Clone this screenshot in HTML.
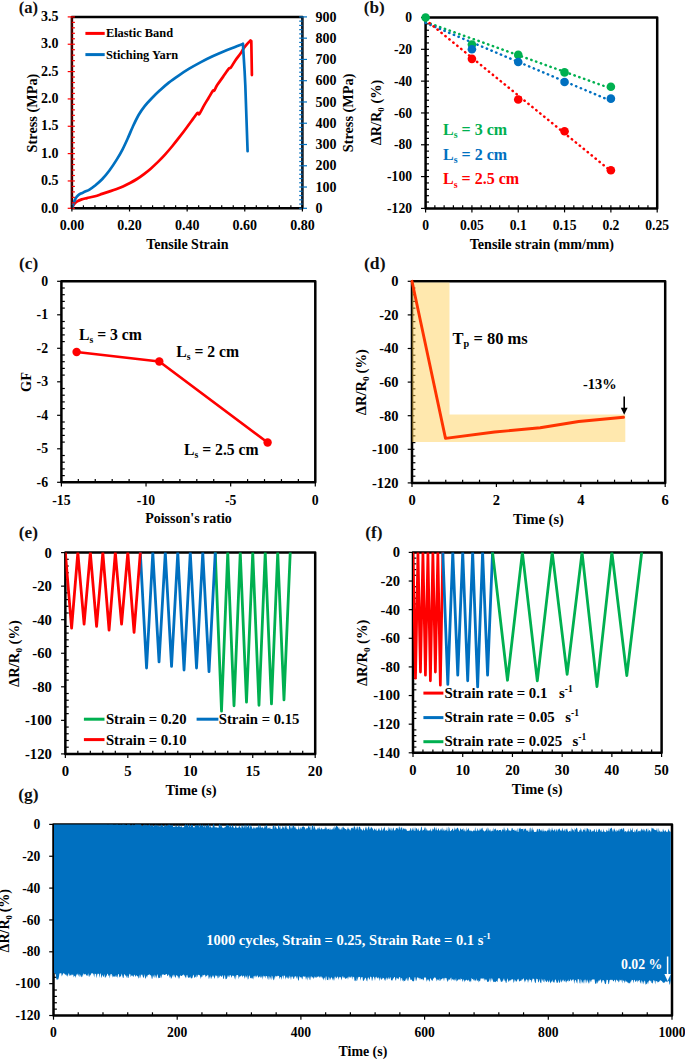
<!DOCTYPE html>
<html><head><meta charset="utf-8"><style>
html,body{margin:0;padding:0;background:#fff;width:685px;height:1059px;overflow:hidden}
svg{display:block}
text{font-family:"Liberation Serif", serif}
</style></head><body>
<svg width="685" height="1059" viewBox="0 0 685 1059">
<rect width="685" height="1059" fill="#fff"/>
<text x="18.8" y="13.1" font-size="16.6" text-anchor="start" fill="#111" font-weight="bold" >(a)</text>
<rect x="71.9" y="16.9" width="230.5" height="191.4" fill="none" stroke="#000" stroke-width="2.5" stroke-linejoin="round"/>
<path d="M72.2,207.5 C72.58,206.85 73.67,204.62 74.5,203.6 C75.33,202.58 76.00,202.10 77.2,201.4 C78.40,200.70 80.07,199.95 81.7,199.4 C83.33,198.85 84.78,198.63 87,198.1 C89.22,197.57 92.50,196.90 95,196.2 C97.50,195.50 99.67,194.67 102,193.9 C104.33,193.13 106.67,192.38 109,191.6 C111.33,190.82 113.67,190.07 116,189.2 C118.33,188.33 120.67,187.43 123,186.4 C125.33,185.37 127.67,184.23 130,183 C132.33,181.77 134.67,180.48 137,179 C139.33,177.52 141.67,175.87 144,174.1 C146.33,172.33 148.67,170.43 151,168.4 C153.33,166.37 155.67,164.20 158,161.9 C160.33,159.60 162.67,157.17 165,154.6 C167.33,152.03 169.67,149.32 172,146.5 C174.33,143.68 176.67,140.70 179,137.7 C181.33,134.70 183.67,131.63 186,128.5 C188.33,125.37 191.13,121.47 193,118.9 C194.87,116.33 196.32,114.02 197.2,113.1 C198.08,112.18 197.93,113.27 198.3,113.4 C198.67,113.53 198.48,115.15 199.4,113.9 C200.32,112.65 202.30,108.52 203.8,105.9 C205.30,103.28 206.90,100.70 208.4,98.2 C209.90,95.70 211.83,92.17 212.8,90.9 C213.77,89.63 213.47,91.57 214.2,90.6 C214.93,89.63 215.73,87.38 217.2,85.1 C218.67,82.82 221.10,79.60 223,76.9 C224.90,74.20 227.30,70.45 228.6,68.9 C229.90,67.35 229.68,69.00 230.8,67.6 C231.92,66.20 233.68,62.85 235.3,60.5 C236.92,58.15 239.15,55.45 240.5,53.5 C241.85,51.55 242.32,50.35 243.4,48.8 C244.48,47.25 245.82,45.55 247,44.2 C248.18,42.85 249.92,41.28 250.5,40.7" fill="none" stroke="#FF0000" stroke-width="2.7" stroke-linejoin="round" stroke-linecap="round" />
<polyline points="250.5,40.7 251.3,41 251.9,75.1" fill="none" stroke="#FF0000" stroke-width="2.7" stroke-linejoin="round" stroke-linecap="round" />
<path d="M72.2,207.5 C72.40,206.88 72.80,205.35 73.4,203.8 C74.00,202.25 75.00,199.63 75.8,198.2 C76.60,196.77 77.37,195.98 78.2,195.2 C79.03,194.42 79.63,194.10 80.8,193.5 C81.97,192.90 83.75,192.25 85.2,191.6 C86.65,190.95 87.90,190.57 89.5,189.6 C91.10,188.63 92.70,187.52 94.8,185.8 C96.90,184.08 99.67,181.85 102.1,179.3 C104.53,176.75 106.97,173.78 109.4,170.5 C111.83,167.22 114.50,163.13 116.7,159.6 C118.90,156.07 120.65,153.08 122.6,149.3 C124.55,145.52 126.70,140.67 128.4,136.9 C130.10,133.13 131.10,130.35 132.8,126.7 C134.50,123.05 136.65,118.40 138.6,115 C140.55,111.60 142.30,109.10 144.5,106.3 C146.70,103.50 149.18,100.90 151.8,98.2 C154.42,95.50 157.37,92.70 160.2,90.1 C163.03,87.50 165.67,85.07 168.8,82.6 C171.93,80.13 175.60,77.62 179,75.3 C182.40,72.98 185.55,70.90 189.2,68.7 C192.85,66.50 197.00,64.17 200.9,62.1 C204.80,60.03 208.72,58.12 212.6,56.3 C216.48,54.48 220.55,52.72 224.2,51.2 C227.85,49.68 231.38,48.42 234.5,47.2 C237.62,45.98 241.50,44.45 242.9,43.9" fill="none" stroke="#0070C0" stroke-width="2.7" stroke-linejoin="round" stroke-linecap="round" />
<polyline points="242.9,43.9 244.6,71 245.3,85 247.6,151.2" fill="none" stroke="#0070C0" stroke-width="2.7" stroke-linejoin="round" stroke-linecap="round" />
<line x1="71.9" y1="16.9" x2="71.9" y2="208.3" stroke="#a00000" stroke-width="0.9" />
<line x1="67.7" y1="208.3" x2="74.9" y2="208.3" stroke="#FF0000" stroke-width="1.2" />
<line x1="71.9" y1="202.83" x2="74.9" y2="202.83" stroke="#FF0000" stroke-width="1.2" />
<line x1="71.9" y1="197.36" x2="74.9" y2="197.36" stroke="#FF0000" stroke-width="1.2" />
<line x1="71.9" y1="191.89" x2="74.9" y2="191.89" stroke="#FF0000" stroke-width="1.2" />
<line x1="71.9" y1="186.43" x2="74.9" y2="186.43" stroke="#FF0000" stroke-width="1.2" />
<text x="58.6" y="212.5" font-size="14" text-anchor="end" fill="#000" font-weight="bold" >0.0</text>
<line x1="67.7" y1="180.96" x2="74.9" y2="180.96" stroke="#FF0000" stroke-width="1.2" />
<line x1="71.9" y1="175.49" x2="74.9" y2="175.49" stroke="#FF0000" stroke-width="1.2" />
<line x1="71.9" y1="170.02" x2="74.9" y2="170.02" stroke="#FF0000" stroke-width="1.2" />
<line x1="71.9" y1="164.55" x2="74.9" y2="164.55" stroke="#FF0000" stroke-width="1.2" />
<line x1="71.9" y1="159.08" x2="74.9" y2="159.08" stroke="#FF0000" stroke-width="1.2" />
<text x="58.6" y="185.16" font-size="14" text-anchor="end" fill="#000" font-weight="bold" >0.5</text>
<line x1="67.7" y1="153.61" x2="74.9" y2="153.61" stroke="#FF0000" stroke-width="1.2" />
<line x1="71.9" y1="148.15" x2="74.9" y2="148.15" stroke="#FF0000" stroke-width="1.2" />
<line x1="71.9" y1="142.68" x2="74.9" y2="142.68" stroke="#FF0000" stroke-width="1.2" />
<line x1="71.9" y1="137.21" x2="74.9" y2="137.21" stroke="#FF0000" stroke-width="1.2" />
<line x1="71.9" y1="131.74" x2="74.9" y2="131.74" stroke="#FF0000" stroke-width="1.2" />
<text x="58.6" y="157.81" font-size="14" text-anchor="end" fill="#000" font-weight="bold" >1.0</text>
<line x1="67.7" y1="126.27" x2="74.9" y2="126.27" stroke="#FF0000" stroke-width="1.2" />
<line x1="71.9" y1="120.8" x2="74.9" y2="120.8" stroke="#FF0000" stroke-width="1.2" />
<line x1="71.9" y1="115.33" x2="74.9" y2="115.33" stroke="#FF0000" stroke-width="1.2" />
<line x1="71.9" y1="109.87" x2="74.9" y2="109.87" stroke="#FF0000" stroke-width="1.2" />
<line x1="71.9" y1="104.4" x2="74.9" y2="104.4" stroke="#FF0000" stroke-width="1.2" />
<text x="58.6" y="130.47" font-size="14" text-anchor="end" fill="#000" font-weight="bold" >1.5</text>
<line x1="67.7" y1="98.93" x2="74.9" y2="98.93" stroke="#FF0000" stroke-width="1.2" />
<line x1="71.9" y1="93.46" x2="74.9" y2="93.46" stroke="#FF0000" stroke-width="1.2" />
<line x1="71.9" y1="87.99" x2="74.9" y2="87.99" stroke="#FF0000" stroke-width="1.2" />
<line x1="71.9" y1="82.52" x2="74.9" y2="82.52" stroke="#FF0000" stroke-width="1.2" />
<line x1="71.9" y1="77.05" x2="74.9" y2="77.05" stroke="#FF0000" stroke-width="1.2" />
<text x="58.6" y="103.13" font-size="14" text-anchor="end" fill="#000" font-weight="bold" >2.0</text>
<line x1="67.7" y1="71.59" x2="74.9" y2="71.59" stroke="#FF0000" stroke-width="1.2" />
<line x1="71.9" y1="66.12" x2="74.9" y2="66.12" stroke="#FF0000" stroke-width="1.2" />
<line x1="71.9" y1="60.65" x2="74.9" y2="60.65" stroke="#FF0000" stroke-width="1.2" />
<line x1="71.9" y1="55.18" x2="74.9" y2="55.18" stroke="#FF0000" stroke-width="1.2" />
<line x1="71.9" y1="49.71" x2="74.9" y2="49.71" stroke="#FF0000" stroke-width="1.2" />
<text x="58.6" y="75.79" font-size="14" text-anchor="end" fill="#000" font-weight="bold" >2.5</text>
<line x1="67.7" y1="44.24" x2="74.9" y2="44.24" stroke="#FF0000" stroke-width="1.2" />
<line x1="71.9" y1="38.77" x2="74.9" y2="38.77" stroke="#FF0000" stroke-width="1.2" />
<line x1="71.9" y1="33.31" x2="74.9" y2="33.31" stroke="#FF0000" stroke-width="1.2" />
<line x1="71.9" y1="27.84" x2="74.9" y2="27.84" stroke="#FF0000" stroke-width="1.2" />
<line x1="71.9" y1="22.37" x2="74.9" y2="22.37" stroke="#FF0000" stroke-width="1.2" />
<text x="58.6" y="48.44" font-size="14" text-anchor="end" fill="#000" font-weight="bold" >3.0</text>
<line x1="67.7" y1="16.9" x2="74.9" y2="16.9" stroke="#FF0000" stroke-width="1.2" />
<text x="58.6" y="21.1" font-size="14" text-anchor="end" fill="#000" font-weight="bold" >3.5</text>
<line x1="302.4" y1="16.9" x2="302.4" y2="208.3" stroke="#0b2f55" stroke-width="0.8" />
<line x1="307" y1="208.3" x2="299.2" y2="208.3" stroke="#0070C0" stroke-width="1.2" />
<line x1="302.4" y1="204.05" x2="299.2" y2="204.05" stroke="#0070C0" stroke-width="1.2" />
<line x1="302.4" y1="199.79" x2="299.2" y2="199.79" stroke="#0070C0" stroke-width="1.2" />
<line x1="302.4" y1="195.54" x2="299.2" y2="195.54" stroke="#0070C0" stroke-width="1.2" />
<line x1="302.4" y1="191.29" x2="299.2" y2="191.29" stroke="#0070C0" stroke-width="1.2" />
<text x="315.4" y="212.9" font-size="14" text-anchor="start" fill="#000" font-weight="bold" >0</text>
<line x1="307" y1="187.03" x2="299.2" y2="187.03" stroke="#0070C0" stroke-width="1.2" />
<line x1="302.4" y1="182.78" x2="299.2" y2="182.78" stroke="#0070C0" stroke-width="1.2" />
<line x1="302.4" y1="178.53" x2="299.2" y2="178.53" stroke="#0070C0" stroke-width="1.2" />
<line x1="302.4" y1="174.27" x2="299.2" y2="174.27" stroke="#0070C0" stroke-width="1.2" />
<line x1="302.4" y1="170.02" x2="299.2" y2="170.02" stroke="#0070C0" stroke-width="1.2" />
<text x="315.4" y="191.63" font-size="14" text-anchor="start" fill="#000" font-weight="bold" >100</text>
<line x1="307" y1="165.77" x2="299.2" y2="165.77" stroke="#0070C0" stroke-width="1.2" />
<line x1="302.4" y1="161.51" x2="299.2" y2="161.51" stroke="#0070C0" stroke-width="1.2" />
<line x1="302.4" y1="157.26" x2="299.2" y2="157.26" stroke="#0070C0" stroke-width="1.2" />
<line x1="302.4" y1="153.01" x2="299.2" y2="153.01" stroke="#0070C0" stroke-width="1.2" />
<line x1="302.4" y1="148.75" x2="299.2" y2="148.75" stroke="#0070C0" stroke-width="1.2" />
<text x="315.4" y="170.37" font-size="14" text-anchor="start" fill="#000" font-weight="bold" >200</text>
<line x1="307" y1="144.5" x2="299.2" y2="144.5" stroke="#0070C0" stroke-width="1.2" />
<line x1="302.4" y1="140.25" x2="299.2" y2="140.25" stroke="#0070C0" stroke-width="1.2" />
<line x1="302.4" y1="135.99" x2="299.2" y2="135.99" stroke="#0070C0" stroke-width="1.2" />
<line x1="302.4" y1="131.74" x2="299.2" y2="131.74" stroke="#0070C0" stroke-width="1.2" />
<line x1="302.4" y1="127.49" x2="299.2" y2="127.49" stroke="#0070C0" stroke-width="1.2" />
<text x="315.4" y="149.1" font-size="14" text-anchor="start" fill="#000" font-weight="bold" >300</text>
<line x1="307" y1="123.23" x2="299.2" y2="123.23" stroke="#0070C0" stroke-width="1.2" />
<line x1="302.4" y1="118.98" x2="299.2" y2="118.98" stroke="#0070C0" stroke-width="1.2" />
<line x1="302.4" y1="114.73" x2="299.2" y2="114.73" stroke="#0070C0" stroke-width="1.2" />
<line x1="302.4" y1="110.47" x2="299.2" y2="110.47" stroke="#0070C0" stroke-width="1.2" />
<line x1="302.4" y1="106.22" x2="299.2" y2="106.22" stroke="#0070C0" stroke-width="1.2" />
<text x="315.4" y="127.83" font-size="14" text-anchor="start" fill="#000" font-weight="bold" >400</text>
<line x1="307" y1="101.97" x2="299.2" y2="101.97" stroke="#0070C0" stroke-width="1.2" />
<line x1="302.4" y1="97.71" x2="299.2" y2="97.71" stroke="#0070C0" stroke-width="1.2" />
<line x1="302.4" y1="93.46" x2="299.2" y2="93.46" stroke="#0070C0" stroke-width="1.2" />
<line x1="302.4" y1="89.21" x2="299.2" y2="89.21" stroke="#0070C0" stroke-width="1.2" />
<line x1="302.4" y1="84.95" x2="299.2" y2="84.95" stroke="#0070C0" stroke-width="1.2" />
<text x="315.4" y="106.57" font-size="14" text-anchor="start" fill="#000" font-weight="bold" >500</text>
<line x1="307" y1="80.7" x2="299.2" y2="80.7" stroke="#0070C0" stroke-width="1.2" />
<line x1="302.4" y1="76.45" x2="299.2" y2="76.45" stroke="#0070C0" stroke-width="1.2" />
<line x1="302.4" y1="72.19" x2="299.2" y2="72.19" stroke="#0070C0" stroke-width="1.2" />
<line x1="302.4" y1="67.94" x2="299.2" y2="67.94" stroke="#0070C0" stroke-width="1.2" />
<line x1="302.4" y1="63.69" x2="299.2" y2="63.69" stroke="#0070C0" stroke-width="1.2" />
<text x="315.4" y="85.3" font-size="14" text-anchor="start" fill="#000" font-weight="bold" >600</text>
<line x1="307" y1="59.43" x2="299.2" y2="59.43" stroke="#0070C0" stroke-width="1.2" />
<line x1="302.4" y1="55.18" x2="299.2" y2="55.18" stroke="#0070C0" stroke-width="1.2" />
<line x1="302.4" y1="50.93" x2="299.2" y2="50.93" stroke="#0070C0" stroke-width="1.2" />
<line x1="302.4" y1="46.67" x2="299.2" y2="46.67" stroke="#0070C0" stroke-width="1.2" />
<line x1="302.4" y1="42.42" x2="299.2" y2="42.42" stroke="#0070C0" stroke-width="1.2" />
<text x="315.4" y="64.03" font-size="14" text-anchor="start" fill="#000" font-weight="bold" >700</text>
<line x1="307" y1="38.17" x2="299.2" y2="38.17" stroke="#0070C0" stroke-width="1.2" />
<line x1="302.4" y1="33.91" x2="299.2" y2="33.91" stroke="#0070C0" stroke-width="1.2" />
<line x1="302.4" y1="29.66" x2="299.2" y2="29.66" stroke="#0070C0" stroke-width="1.2" />
<line x1="302.4" y1="25.41" x2="299.2" y2="25.41" stroke="#0070C0" stroke-width="1.2" />
<line x1="302.4" y1="21.15" x2="299.2" y2="21.15" stroke="#0070C0" stroke-width="1.2" />
<text x="315.4" y="42.77" font-size="14" text-anchor="start" fill="#000" font-weight="bold" >800</text>
<line x1="307" y1="16.9" x2="299.2" y2="16.9" stroke="#0070C0" stroke-width="1.2" />
<text x="315.4" y="21.5" font-size="14" text-anchor="start" fill="#000" font-weight="bold" >900</text>
<line x1="71.9" y1="205.1" x2="71.9" y2="211.5" stroke="#000" stroke-width="1.2" />
<line x1="83.43" y1="205.3" x2="83.43" y2="208.3" stroke="#000" stroke-width="1.2" />
<line x1="94.95" y1="205.3" x2="94.95" y2="208.3" stroke="#000" stroke-width="1.2" />
<line x1="106.47" y1="205.3" x2="106.47" y2="208.3" stroke="#000" stroke-width="1.2" />
<line x1="118" y1="205.3" x2="118" y2="208.3" stroke="#000" stroke-width="1.2" />
<text x="71.9" y="229.6" font-size="14" text-anchor="middle" fill="#000" font-weight="bold" >0.00</text>
<line x1="129.53" y1="205.1" x2="129.53" y2="211.5" stroke="#000" stroke-width="1.2" />
<line x1="141.05" y1="205.3" x2="141.05" y2="208.3" stroke="#000" stroke-width="1.2" />
<line x1="152.57" y1="205.3" x2="152.57" y2="208.3" stroke="#000" stroke-width="1.2" />
<line x1="164.1" y1="205.3" x2="164.1" y2="208.3" stroke="#000" stroke-width="1.2" />
<line x1="175.62" y1="205.3" x2="175.62" y2="208.3" stroke="#000" stroke-width="1.2" />
<text x="129.53" y="229.6" font-size="14" text-anchor="middle" fill="#000" font-weight="bold" >0.20</text>
<line x1="187.15" y1="205.1" x2="187.15" y2="211.5" stroke="#000" stroke-width="1.2" />
<line x1="198.67" y1="205.3" x2="198.67" y2="208.3" stroke="#000" stroke-width="1.2" />
<line x1="210.2" y1="205.3" x2="210.2" y2="208.3" stroke="#000" stroke-width="1.2" />
<line x1="221.72" y1="205.3" x2="221.72" y2="208.3" stroke="#000" stroke-width="1.2" />
<line x1="233.25" y1="205.3" x2="233.25" y2="208.3" stroke="#000" stroke-width="1.2" />
<text x="187.15" y="229.6" font-size="14" text-anchor="middle" fill="#000" font-weight="bold" >0.40</text>
<line x1="244.77" y1="205.1" x2="244.77" y2="211.5" stroke="#000" stroke-width="1.2" />
<line x1="256.3" y1="205.3" x2="256.3" y2="208.3" stroke="#000" stroke-width="1.2" />
<line x1="267.82" y1="205.3" x2="267.82" y2="208.3" stroke="#000" stroke-width="1.2" />
<line x1="279.35" y1="205.3" x2="279.35" y2="208.3" stroke="#000" stroke-width="1.2" />
<line x1="290.88" y1="205.3" x2="290.88" y2="208.3" stroke="#000" stroke-width="1.2" />
<text x="244.77" y="229.6" font-size="14" text-anchor="middle" fill="#000" font-weight="bold" >0.60</text>
<line x1="302.4" y1="205.1" x2="302.4" y2="211.5" stroke="#000" stroke-width="1.2" />
<text x="302.4" y="229.6" font-size="14" text-anchor="middle" fill="#000" font-weight="bold" >0.80</text>
<line x1="85.4" y1="33.4" x2="104.7" y2="33.4" stroke="#FF0000" stroke-width="3" />
<text x="105.9" y="37.4" font-size="12.4" text-anchor="start" fill="#000" font-weight="bold" >Elastic Band</text>
<line x1="85.4" y1="54.6" x2="104.7" y2="54.6" stroke="#0070C0" stroke-width="3" />
<text x="105.9" y="58.6" font-size="12.4" text-anchor="start" fill="#000" font-weight="bold" >Stiching Yarn</text>
<text x="187.3" y="248.7" font-size="14" text-anchor="middle" fill="#000" font-weight="bold" >Tensile Strain</text>
<text x="0" y="0" font-size="14.3" text-anchor="middle" font-weight="bold" transform="translate(36.6,113) rotate(-90)">Stress (MPa)</text>
<text x="0" y="0" font-size="14.3" text-anchor="middle" font-weight="bold" transform="translate(353.2,112.9) rotate(-90)">Stress (MPa)</text>
<text x="363.8" y="13.2" font-size="17.2" text-anchor="start" fill="#111" font-weight="bold" >(b)</text>
<rect x="425.6" y="17.5" width="231.6" height="190.9" fill="none" stroke="#000" stroke-width="2.5" stroke-linejoin="round"/>
<line x1="421" y1="208.4" x2="429" y2="208.4" stroke="#000" stroke-width="1.2" />
<line x1="425.6" y1="202.04" x2="429" y2="202.04" stroke="#000" stroke-width="1.2" />
<line x1="425.6" y1="195.67" x2="429" y2="195.67" stroke="#000" stroke-width="1.2" />
<line x1="425.6" y1="189.31" x2="429" y2="189.31" stroke="#000" stroke-width="1.2" />
<line x1="425.6" y1="182.95" x2="429" y2="182.95" stroke="#000" stroke-width="1.2" />
<text x="412" y="212.96" font-size="13.6" text-anchor="end" fill="#000" font-weight="bold" >-120</text>
<line x1="421" y1="176.58" x2="429" y2="176.58" stroke="#000" stroke-width="1.2" />
<line x1="425.6" y1="170.22" x2="429" y2="170.22" stroke="#000" stroke-width="1.2" />
<line x1="425.6" y1="163.86" x2="429" y2="163.86" stroke="#000" stroke-width="1.2" />
<line x1="425.6" y1="157.49" x2="429" y2="157.49" stroke="#000" stroke-width="1.2" />
<line x1="425.6" y1="151.13" x2="429" y2="151.13" stroke="#000" stroke-width="1.2" />
<text x="412" y="181.14" font-size="13.6" text-anchor="end" fill="#000" font-weight="bold" >-100</text>
<line x1="421" y1="144.77" x2="429" y2="144.77" stroke="#000" stroke-width="1.2" />
<line x1="425.6" y1="138.4" x2="429" y2="138.4" stroke="#000" stroke-width="1.2" />
<line x1="425.6" y1="132.04" x2="429" y2="132.04" stroke="#000" stroke-width="1.2" />
<line x1="425.6" y1="125.68" x2="429" y2="125.68" stroke="#000" stroke-width="1.2" />
<line x1="425.6" y1="119.31" x2="429" y2="119.31" stroke="#000" stroke-width="1.2" />
<text x="412" y="149.32" font-size="13.6" text-anchor="end" fill="#000" font-weight="bold" >-80</text>
<line x1="421" y1="112.95" x2="429" y2="112.95" stroke="#000" stroke-width="1.2" />
<line x1="425.6" y1="106.59" x2="429" y2="106.59" stroke="#000" stroke-width="1.2" />
<line x1="425.6" y1="100.22" x2="429" y2="100.22" stroke="#000" stroke-width="1.2" />
<line x1="425.6" y1="93.86" x2="429" y2="93.86" stroke="#000" stroke-width="1.2" />
<line x1="425.6" y1="87.5" x2="429" y2="87.5" stroke="#000" stroke-width="1.2" />
<text x="412" y="117.51" font-size="13.6" text-anchor="end" fill="#000" font-weight="bold" >-60</text>
<line x1="421" y1="81.13" x2="429" y2="81.13" stroke="#000" stroke-width="1.2" />
<line x1="425.6" y1="74.77" x2="429" y2="74.77" stroke="#000" stroke-width="1.2" />
<line x1="425.6" y1="68.41" x2="429" y2="68.41" stroke="#000" stroke-width="1.2" />
<line x1="425.6" y1="62.04" x2="429" y2="62.04" stroke="#000" stroke-width="1.2" />
<line x1="425.6" y1="55.68" x2="429" y2="55.68" stroke="#000" stroke-width="1.2" />
<text x="412" y="85.69" font-size="13.6" text-anchor="end" fill="#000" font-weight="bold" >-40</text>
<line x1="421" y1="49.32" x2="429" y2="49.32" stroke="#000" stroke-width="1.2" />
<line x1="425.6" y1="42.95" x2="429" y2="42.95" stroke="#000" stroke-width="1.2" />
<line x1="425.6" y1="36.59" x2="429" y2="36.59" stroke="#000" stroke-width="1.2" />
<line x1="425.6" y1="30.23" x2="429" y2="30.23" stroke="#000" stroke-width="1.2" />
<line x1="425.6" y1="23.86" x2="429" y2="23.86" stroke="#000" stroke-width="1.2" />
<text x="412" y="53.87" font-size="13.6" text-anchor="end" fill="#000" font-weight="bold" >-20</text>
<line x1="421" y1="17.5" x2="429" y2="17.5" stroke="#000" stroke-width="1.2" />
<text x="412" y="22.06" font-size="13.6" text-anchor="end" fill="#000" font-weight="bold" >0</text>
<line x1="425.6" y1="205.2" x2="425.6" y2="212.4" stroke="#000" stroke-width="1.2" />
<line x1="434.86" y1="205.2" x2="434.86" y2="208.4" stroke="#000" stroke-width="1.2" />
<line x1="444.13" y1="205.2" x2="444.13" y2="208.4" stroke="#000" stroke-width="1.2" />
<line x1="453.39" y1="205.2" x2="453.39" y2="208.4" stroke="#000" stroke-width="1.2" />
<line x1="462.66" y1="205.2" x2="462.66" y2="208.4" stroke="#000" stroke-width="1.2" />
<text x="425.6" y="229.6" font-size="13.6" text-anchor="middle" fill="#000" font-weight="bold" >0</text>
<line x1="471.92" y1="205.2" x2="471.92" y2="212.4" stroke="#000" stroke-width="1.2" />
<line x1="481.18" y1="205.2" x2="481.18" y2="208.4" stroke="#000" stroke-width="1.2" />
<line x1="490.45" y1="205.2" x2="490.45" y2="208.4" stroke="#000" stroke-width="1.2" />
<line x1="499.71" y1="205.2" x2="499.71" y2="208.4" stroke="#000" stroke-width="1.2" />
<line x1="508.98" y1="205.2" x2="508.98" y2="208.4" stroke="#000" stroke-width="1.2" />
<text x="471.92" y="229.6" font-size="13.6" text-anchor="middle" fill="#000" font-weight="bold" >0.05</text>
<line x1="518.24" y1="205.2" x2="518.24" y2="212.4" stroke="#000" stroke-width="1.2" />
<line x1="527.5" y1="205.2" x2="527.5" y2="208.4" stroke="#000" stroke-width="1.2" />
<line x1="536.77" y1="205.2" x2="536.77" y2="208.4" stroke="#000" stroke-width="1.2" />
<line x1="546.03" y1="205.2" x2="546.03" y2="208.4" stroke="#000" stroke-width="1.2" />
<line x1="555.3" y1="205.2" x2="555.3" y2="208.4" stroke="#000" stroke-width="1.2" />
<text x="518.24" y="229.6" font-size="13.6" text-anchor="middle" fill="#000" font-weight="bold" >0.1</text>
<line x1="564.56" y1="205.2" x2="564.56" y2="212.4" stroke="#000" stroke-width="1.2" />
<line x1="573.82" y1="205.2" x2="573.82" y2="208.4" stroke="#000" stroke-width="1.2" />
<line x1="583.09" y1="205.2" x2="583.09" y2="208.4" stroke="#000" stroke-width="1.2" />
<line x1="592.35" y1="205.2" x2="592.35" y2="208.4" stroke="#000" stroke-width="1.2" />
<line x1="601.62" y1="205.2" x2="601.62" y2="208.4" stroke="#000" stroke-width="1.2" />
<text x="564.56" y="229.6" font-size="13.6" text-anchor="middle" fill="#000" font-weight="bold" >0.15</text>
<line x1="610.88" y1="205.2" x2="610.88" y2="212.4" stroke="#000" stroke-width="1.2" />
<line x1="620.14" y1="205.2" x2="620.14" y2="208.4" stroke="#000" stroke-width="1.2" />
<line x1="629.41" y1="205.2" x2="629.41" y2="208.4" stroke="#000" stroke-width="1.2" />
<line x1="638.67" y1="205.2" x2="638.67" y2="208.4" stroke="#000" stroke-width="1.2" />
<line x1="647.94" y1="205.2" x2="647.94" y2="208.4" stroke="#000" stroke-width="1.2" />
<text x="610.88" y="229.6" font-size="13.6" text-anchor="middle" fill="#000" font-weight="bold" >0.2</text>
<line x1="657.2" y1="205.2" x2="657.2" y2="212.4" stroke="#000" stroke-width="1.2" />
<text x="657.2" y="229.6" font-size="13.6" text-anchor="middle" fill="#000" font-weight="bold" >0.25</text>
<line x1="425.6" y1="21.95" x2="610.88" y2="88.45" stroke="#00B050" stroke-width="2.5" stroke-dasharray="0.35 4.75" stroke-linecap="round"/>
<line x1="425.6" y1="22.91" x2="610.88" y2="100.86" stroke="#0070C0" stroke-width="2.5" stroke-dasharray="0.35 4.75" stroke-linecap="round"/>
<line x1="425.6" y1="19.89" x2="610.88" y2="171.02" stroke="#FF0000" stroke-width="2.5" stroke-dasharray="0.35 4.75" stroke-linecap="round"/>
<circle cx="471.92" cy="44.54" r="4.3" fill="#00B050"/>
<circle cx="518.24" cy="54.88" r="4.3" fill="#00B050"/>
<circle cx="564.56" cy="72.38" r="4.3" fill="#00B050"/>
<circle cx="610.88" cy="86.7" r="4.3" fill="#00B050"/>
<circle cx="471.92" cy="49.32" r="4.3" fill="#0070C0"/>
<circle cx="518.24" cy="62.04" r="4.3" fill="#0070C0"/>
<circle cx="564.56" cy="81.93" r="4.3" fill="#0070C0"/>
<circle cx="610.88" cy="98.63" r="4.3" fill="#0070C0"/>
<circle cx="471.92" cy="58.86" r="4.3" fill="#FF0000"/>
<circle cx="518.24" cy="99.43" r="4.3" fill="#FF0000"/>
<circle cx="564.56" cy="131.24" r="4.3" fill="#FF0000"/>
<circle cx="610.88" cy="170.22" r="4.3" fill="#FF0000"/>
<circle cx="425.6" cy="17.5" r="4.3" fill="#00B050"/>
<text x="443" y="134.7" font-size="16" fill="#00B050" font-weight="bold">L<tspan font-size="9.9" dy="3.2">s</tspan><tspan dy="-3.2"> = 3 cm</tspan></text>
<text x="443" y="159.7" font-size="16" fill="#0070C0" font-weight="bold">L<tspan font-size="9.9" dy="3.2">s</tspan><tspan dy="-3.2"> = 2 cm</tspan></text>
<text x="443" y="184.4" font-size="16" fill="#FF0000" font-weight="bold">L<tspan font-size="9.9" dy="3.2">s</tspan><tspan dy="-3.2"> = 2.5 cm</tspan></text>
<text x="541.9" y="249.2" font-size="14.1" text-anchor="middle" fill="#000" font-weight="bold" >Tensile strain (mm/mm)</text>
<text x="0" y="0" font-size="14.3" text-anchor="middle" font-weight="bold" transform="translate(381.4,112.5) rotate(-90)">ΔR/R<tspan font-size="8.9" dy="2.9">0</tspan><tspan dy="-2.9"> (%)</tspan></text>
<text x="19" y="269.4" font-size="17.3" text-anchor="start" fill="#111" font-weight="bold" >(c)</text>
<rect x="61.4" y="281.3" width="253.9" height="201" fill="none" stroke="#000" stroke-width="2.5" stroke-linejoin="round"/>
<line x1="57.1" y1="482.3" x2="61.4" y2="482.3" stroke="#000" stroke-width="1.2" />
<line x1="61.4" y1="475.6" x2="64.8" y2="475.6" stroke="#000" stroke-width="1.2" />
<line x1="61.4" y1="468.9" x2="64.8" y2="468.9" stroke="#000" stroke-width="1.2" />
<line x1="61.4" y1="462.2" x2="64.8" y2="462.2" stroke="#000" stroke-width="1.2" />
<line x1="61.4" y1="455.5" x2="64.8" y2="455.5" stroke="#000" stroke-width="1.2" />
<text x="48.1" y="486.92" font-size="13.8" text-anchor="end" fill="#000" font-weight="bold" >-6</text>
<line x1="57.1" y1="448.8" x2="61.4" y2="448.8" stroke="#000" stroke-width="1.2" />
<line x1="61.4" y1="442.1" x2="64.8" y2="442.1" stroke="#000" stroke-width="1.2" />
<line x1="61.4" y1="435.4" x2="64.8" y2="435.4" stroke="#000" stroke-width="1.2" />
<line x1="61.4" y1="428.7" x2="64.8" y2="428.7" stroke="#000" stroke-width="1.2" />
<line x1="61.4" y1="422" x2="64.8" y2="422" stroke="#000" stroke-width="1.2" />
<text x="48.1" y="453.42" font-size="13.8" text-anchor="end" fill="#000" font-weight="bold" >-5</text>
<line x1="57.1" y1="415.3" x2="61.4" y2="415.3" stroke="#000" stroke-width="1.2" />
<line x1="61.4" y1="408.6" x2="64.8" y2="408.6" stroke="#000" stroke-width="1.2" />
<line x1="61.4" y1="401.9" x2="64.8" y2="401.9" stroke="#000" stroke-width="1.2" />
<line x1="61.4" y1="395.2" x2="64.8" y2="395.2" stroke="#000" stroke-width="1.2" />
<line x1="61.4" y1="388.5" x2="64.8" y2="388.5" stroke="#000" stroke-width="1.2" />
<text x="48.1" y="419.92" font-size="13.8" text-anchor="end" fill="#000" font-weight="bold" >-4</text>
<line x1="57.1" y1="381.8" x2="61.4" y2="381.8" stroke="#000" stroke-width="1.2" />
<line x1="61.4" y1="375.1" x2="64.8" y2="375.1" stroke="#000" stroke-width="1.2" />
<line x1="61.4" y1="368.4" x2="64.8" y2="368.4" stroke="#000" stroke-width="1.2" />
<line x1="61.4" y1="361.7" x2="64.8" y2="361.7" stroke="#000" stroke-width="1.2" />
<line x1="61.4" y1="355" x2="64.8" y2="355" stroke="#000" stroke-width="1.2" />
<text x="48.1" y="386.42" font-size="13.8" text-anchor="end" fill="#000" font-weight="bold" >-3</text>
<line x1="57.1" y1="348.3" x2="61.4" y2="348.3" stroke="#000" stroke-width="1.2" />
<line x1="61.4" y1="341.6" x2="64.8" y2="341.6" stroke="#000" stroke-width="1.2" />
<line x1="61.4" y1="334.9" x2="64.8" y2="334.9" stroke="#000" stroke-width="1.2" />
<line x1="61.4" y1="328.2" x2="64.8" y2="328.2" stroke="#000" stroke-width="1.2" />
<line x1="61.4" y1="321.5" x2="64.8" y2="321.5" stroke="#000" stroke-width="1.2" />
<text x="48.1" y="352.92" font-size="13.8" text-anchor="end" fill="#000" font-weight="bold" >-2</text>
<line x1="57.1" y1="314.8" x2="61.4" y2="314.8" stroke="#000" stroke-width="1.2" />
<line x1="61.4" y1="308.1" x2="64.8" y2="308.1" stroke="#000" stroke-width="1.2" />
<line x1="61.4" y1="301.4" x2="64.8" y2="301.4" stroke="#000" stroke-width="1.2" />
<line x1="61.4" y1="294.7" x2="64.8" y2="294.7" stroke="#000" stroke-width="1.2" />
<line x1="61.4" y1="288" x2="64.8" y2="288" stroke="#000" stroke-width="1.2" />
<text x="48.1" y="319.42" font-size="13.8" text-anchor="end" fill="#000" font-weight="bold" >-1</text>
<line x1="57.1" y1="281.3" x2="61.4" y2="281.3" stroke="#000" stroke-width="1.2" />
<text x="48.1" y="285.92" font-size="13.8" text-anchor="end" fill="#000" font-weight="bold" >0</text>
<line x1="61.4" y1="482.3" x2="61.4" y2="486.5" stroke="#000" stroke-width="1.2" />
<line x1="78.33" y1="479.1" x2="78.33" y2="482.3" stroke="#000" stroke-width="1.2" />
<line x1="95.25" y1="479.1" x2="95.25" y2="482.3" stroke="#000" stroke-width="1.2" />
<line x1="112.18" y1="479.1" x2="112.18" y2="482.3" stroke="#000" stroke-width="1.2" />
<line x1="129.11" y1="479.1" x2="129.11" y2="482.3" stroke="#000" stroke-width="1.2" />
<text x="61.4" y="504.9" font-size="13.8" text-anchor="middle" fill="#000" font-weight="bold" >-15</text>
<line x1="146.03" y1="482.3" x2="146.03" y2="486.5" stroke="#000" stroke-width="1.2" />
<line x1="162.96" y1="479.1" x2="162.96" y2="482.3" stroke="#000" stroke-width="1.2" />
<line x1="179.89" y1="479.1" x2="179.89" y2="482.3" stroke="#000" stroke-width="1.2" />
<line x1="196.81" y1="479.1" x2="196.81" y2="482.3" stroke="#000" stroke-width="1.2" />
<line x1="213.74" y1="479.1" x2="213.74" y2="482.3" stroke="#000" stroke-width="1.2" />
<text x="146.03" y="504.9" font-size="13.8" text-anchor="middle" fill="#000" font-weight="bold" >-10</text>
<line x1="230.67" y1="482.3" x2="230.67" y2="486.5" stroke="#000" stroke-width="1.2" />
<line x1="247.59" y1="479.1" x2="247.59" y2="482.3" stroke="#000" stroke-width="1.2" />
<line x1="264.52" y1="479.1" x2="264.52" y2="482.3" stroke="#000" stroke-width="1.2" />
<line x1="281.45" y1="479.1" x2="281.45" y2="482.3" stroke="#000" stroke-width="1.2" />
<line x1="298.37" y1="479.1" x2="298.37" y2="482.3" stroke="#000" stroke-width="1.2" />
<text x="230.67" y="504.9" font-size="13.8" text-anchor="middle" fill="#000" font-weight="bold" >-5</text>
<line x1="315.3" y1="482.3" x2="315.3" y2="486.5" stroke="#000" stroke-width="1.2" />
<text x="315.3" y="504.9" font-size="13.8" text-anchor="middle" fill="#000" font-weight="bold" >0</text>
<polyline points="76.6,352 159.3,361.5 267.6,442.5" fill="none" stroke="#FF0000" stroke-width="2.7" stroke-linejoin="round" stroke-linecap="round" />
<circle cx="76.6" cy="352" r="4.2" fill="#FF0000"/>
<circle cx="159.3" cy="361.5" r="4.2" fill="#FF0000"/>
<circle cx="267.6" cy="442.5" r="4.2" fill="#FF0000"/>
<text x="79" y="339.7" font-size="15.7" fill="#000" font-weight="bold">L<tspan font-size="9.7" dy="3.1">s</tspan><tspan dy="-3.1"> = 3 cm</tspan></text>
<text x="176.3" y="356.8" font-size="15.7" fill="#000" font-weight="bold">L<tspan font-size="9.7" dy="3.1">s</tspan><tspan dy="-3.1"> = 2 cm</tspan></text>
<text x="184" y="454.6" font-size="15.7" fill="#000" font-weight="bold">L<tspan font-size="9.7" dy="3.1">s</tspan><tspan dy="-3.1"> = 2.5 cm</tspan></text>
<text x="188.5" y="523.4" font-size="14" text-anchor="middle" fill="#000" font-weight="bold" >Poisson's ratio</text>
<text x="0" y="0" font-size="14.3" text-anchor="middle" font-weight="bold" transform="translate(31.4,382) rotate(-90)">GF</text>
<text x="364" y="268.8" font-size="17.6" text-anchor="start" fill="#111" font-weight="bold" >(d)</text>
<rect x="412" y="281.3" width="253.2" height="201.6" fill="none" stroke="#000" stroke-width="2.5" stroke-linejoin="round"/>
<line x1="407.7" y1="482.9" x2="414.5" y2="482.9" stroke="#000" stroke-width="1.2" />
<line x1="412" y1="476.18" x2="415.4" y2="476.18" stroke="#000" stroke-width="1.2" />
<line x1="412" y1="469.46" x2="415.4" y2="469.46" stroke="#000" stroke-width="1.2" />
<line x1="412" y1="462.74" x2="415.4" y2="462.74" stroke="#000" stroke-width="1.2" />
<line x1="412" y1="456.02" x2="415.4" y2="456.02" stroke="#000" stroke-width="1.2" />
<text x="398.5" y="487.76" font-size="14.5" text-anchor="end" fill="#000" font-weight="bold" >-120</text>
<line x1="407.7" y1="449.3" x2="414.5" y2="449.3" stroke="#000" stroke-width="1.2" />
<line x1="412" y1="442.58" x2="415.4" y2="442.58" stroke="#000" stroke-width="1.2" />
<line x1="412" y1="435.86" x2="415.4" y2="435.86" stroke="#000" stroke-width="1.2" />
<line x1="412" y1="429.14" x2="415.4" y2="429.14" stroke="#000" stroke-width="1.2" />
<line x1="412" y1="422.42" x2="415.4" y2="422.42" stroke="#000" stroke-width="1.2" />
<text x="398.5" y="454.16" font-size="14.5" text-anchor="end" fill="#000" font-weight="bold" >-100</text>
<line x1="407.7" y1="415.7" x2="414.5" y2="415.7" stroke="#000" stroke-width="1.2" />
<line x1="412" y1="408.98" x2="415.4" y2="408.98" stroke="#000" stroke-width="1.2" />
<line x1="412" y1="402.26" x2="415.4" y2="402.26" stroke="#000" stroke-width="1.2" />
<line x1="412" y1="395.54" x2="415.4" y2="395.54" stroke="#000" stroke-width="1.2" />
<line x1="412" y1="388.82" x2="415.4" y2="388.82" stroke="#000" stroke-width="1.2" />
<text x="398.5" y="420.56" font-size="14.5" text-anchor="end" fill="#000" font-weight="bold" >-80</text>
<line x1="407.7" y1="382.1" x2="414.5" y2="382.1" stroke="#000" stroke-width="1.2" />
<line x1="412" y1="375.38" x2="415.4" y2="375.38" stroke="#000" stroke-width="1.2" />
<line x1="412" y1="368.66" x2="415.4" y2="368.66" stroke="#000" stroke-width="1.2" />
<line x1="412" y1="361.94" x2="415.4" y2="361.94" stroke="#000" stroke-width="1.2" />
<line x1="412" y1="355.22" x2="415.4" y2="355.22" stroke="#000" stroke-width="1.2" />
<text x="398.5" y="386.96" font-size="14.5" text-anchor="end" fill="#000" font-weight="bold" >-60</text>
<line x1="407.7" y1="348.5" x2="414.5" y2="348.5" stroke="#000" stroke-width="1.2" />
<line x1="412" y1="341.78" x2="415.4" y2="341.78" stroke="#000" stroke-width="1.2" />
<line x1="412" y1="335.06" x2="415.4" y2="335.06" stroke="#000" stroke-width="1.2" />
<line x1="412" y1="328.34" x2="415.4" y2="328.34" stroke="#000" stroke-width="1.2" />
<line x1="412" y1="321.62" x2="415.4" y2="321.62" stroke="#000" stroke-width="1.2" />
<text x="398.5" y="353.36" font-size="14.5" text-anchor="end" fill="#000" font-weight="bold" >-40</text>
<line x1="407.7" y1="314.9" x2="414.5" y2="314.9" stroke="#000" stroke-width="1.2" />
<line x1="412" y1="308.18" x2="415.4" y2="308.18" stroke="#000" stroke-width="1.2" />
<line x1="412" y1="301.46" x2="415.4" y2="301.46" stroke="#000" stroke-width="1.2" />
<line x1="412" y1="294.74" x2="415.4" y2="294.74" stroke="#000" stroke-width="1.2" />
<line x1="412" y1="288.02" x2="415.4" y2="288.02" stroke="#000" stroke-width="1.2" />
<text x="398.5" y="319.76" font-size="14.5" text-anchor="end" fill="#000" font-weight="bold" >-20</text>
<line x1="407.7" y1="281.3" x2="414.5" y2="281.3" stroke="#000" stroke-width="1.2" />
<text x="398.5" y="286.16" font-size="14.5" text-anchor="end" fill="#000" font-weight="bold" >0</text>
<line x1="412" y1="482.9" x2="412" y2="487.1" stroke="#000" stroke-width="1.2" />
<line x1="428.88" y1="479.7" x2="428.88" y2="482.9" stroke="#000" stroke-width="1.2" />
<line x1="445.76" y1="479.7" x2="445.76" y2="482.9" stroke="#000" stroke-width="1.2" />
<line x1="462.64" y1="479.7" x2="462.64" y2="482.9" stroke="#000" stroke-width="1.2" />
<line x1="479.52" y1="479.7" x2="479.52" y2="482.9" stroke="#000" stroke-width="1.2" />
<text x="412" y="504.7" font-size="14.5" text-anchor="middle" fill="#000" font-weight="bold" >0</text>
<line x1="496.4" y1="482.9" x2="496.4" y2="487.1" stroke="#000" stroke-width="1.2" />
<line x1="513.28" y1="479.7" x2="513.28" y2="482.9" stroke="#000" stroke-width="1.2" />
<line x1="530.16" y1="479.7" x2="530.16" y2="482.9" stroke="#000" stroke-width="1.2" />
<line x1="547.04" y1="479.7" x2="547.04" y2="482.9" stroke="#000" stroke-width="1.2" />
<line x1="563.92" y1="479.7" x2="563.92" y2="482.9" stroke="#000" stroke-width="1.2" />
<text x="496.4" y="504.7" font-size="14.5" text-anchor="middle" fill="#000" font-weight="bold" >2</text>
<line x1="580.8" y1="482.9" x2="580.8" y2="487.1" stroke="#000" stroke-width="1.2" />
<line x1="597.68" y1="479.7" x2="597.68" y2="482.9" stroke="#000" stroke-width="1.2" />
<line x1="614.56" y1="479.7" x2="614.56" y2="482.9" stroke="#000" stroke-width="1.2" />
<line x1="631.44" y1="479.7" x2="631.44" y2="482.9" stroke="#000" stroke-width="1.2" />
<line x1="648.32" y1="479.7" x2="648.32" y2="482.9" stroke="#000" stroke-width="1.2" />
<text x="580.8" y="504.7" font-size="14.5" text-anchor="middle" fill="#000" font-weight="bold" >4</text>
<line x1="665.2" y1="482.9" x2="665.2" y2="487.1" stroke="#000" stroke-width="1.2" />
<text x="665.2" y="504.7" font-size="14.5" text-anchor="middle" fill="#000" font-weight="bold" >6</text>
<polygon points="412,282.5 449.5,282.5 449.5,414.5 625.3,414.5 625.3,442.1 412,442.1" fill="#FFCC4B" fill-opacity="0.45"/>
<polyline points="412,281.3 445.5,438.4 494.6,432 540.2,427.8 578.7,421.5 623.5,417.3" fill="none" stroke="#FF3300" stroke-width="2.9" stroke-linejoin="round" stroke-linecap="round" />
<text x="452.6" y="343.8" font-size="16.5" font-weight="bold">T<tspan font-size="10.2" dy="3.3">p</tspan><tspan dy="-3.3"> = 80 ms</tspan></text>
<text x="583" y="389" font-size="14.4" text-anchor="start" fill="#000" font-weight="bold" >-13%</text>
<line x1="624.2" y1="396.4" x2="624.2" y2="410" stroke="#000" stroke-width="1.6" />
<polygon points="620.8,407.8 627.6,407.8 624.2,414.8" fill="#000"/>
<text x="538.5" y="524.2" font-size="14.5" text-anchor="middle" fill="#000" font-weight="bold" >Time (s)</text>
<text x="0" y="0" font-size="14.6" text-anchor="middle" font-weight="bold" transform="translate(366,382.2) rotate(-90)">ΔR/R<tspan font-size="9.1" dy="2.9">0</tspan><tspan dy="-2.9"> (%)</tspan></text>
<text x="18.8" y="538.4" font-size="17.3" text-anchor="start" fill="#111" font-weight="bold" >(e)</text>
<rect x="65.35" y="552.6" width="249.85" height="201.3" fill="none" stroke="#000" stroke-width="2.5" stroke-linejoin="round"/>
<line x1="61.05" y1="753.9" x2="65.35" y2="753.9" stroke="#000" stroke-width="1.2" />
<line x1="65.35" y1="747.19" x2="68.75" y2="747.19" stroke="#000" stroke-width="1.2" />
<line x1="65.35" y1="740.48" x2="68.75" y2="740.48" stroke="#000" stroke-width="1.2" />
<line x1="65.35" y1="733.77" x2="68.75" y2="733.77" stroke="#000" stroke-width="1.2" />
<line x1="65.35" y1="727.06" x2="68.75" y2="727.06" stroke="#000" stroke-width="1.2" />
<text x="51.85" y="758.82" font-size="14.7" text-anchor="end" fill="#000" font-weight="bold" >-120</text>
<line x1="61.05" y1="720.35" x2="65.35" y2="720.35" stroke="#000" stroke-width="1.2" />
<line x1="65.35" y1="713.64" x2="68.75" y2="713.64" stroke="#000" stroke-width="1.2" />
<line x1="65.35" y1="706.93" x2="68.75" y2="706.93" stroke="#000" stroke-width="1.2" />
<line x1="65.35" y1="700.22" x2="68.75" y2="700.22" stroke="#000" stroke-width="1.2" />
<line x1="65.35" y1="693.51" x2="68.75" y2="693.51" stroke="#000" stroke-width="1.2" />
<text x="51.85" y="725.27" font-size="14.7" text-anchor="end" fill="#000" font-weight="bold" >-100</text>
<line x1="61.05" y1="686.8" x2="65.35" y2="686.8" stroke="#000" stroke-width="1.2" />
<line x1="65.35" y1="680.09" x2="68.75" y2="680.09" stroke="#000" stroke-width="1.2" />
<line x1="65.35" y1="673.38" x2="68.75" y2="673.38" stroke="#000" stroke-width="1.2" />
<line x1="65.35" y1="666.67" x2="68.75" y2="666.67" stroke="#000" stroke-width="1.2" />
<line x1="65.35" y1="659.96" x2="68.75" y2="659.96" stroke="#000" stroke-width="1.2" />
<text x="51.85" y="691.72" font-size="14.7" text-anchor="end" fill="#000" font-weight="bold" >-80</text>
<line x1="61.05" y1="653.25" x2="65.35" y2="653.25" stroke="#000" stroke-width="1.2" />
<line x1="65.35" y1="646.54" x2="68.75" y2="646.54" stroke="#000" stroke-width="1.2" />
<line x1="65.35" y1="639.83" x2="68.75" y2="639.83" stroke="#000" stroke-width="1.2" />
<line x1="65.35" y1="633.12" x2="68.75" y2="633.12" stroke="#000" stroke-width="1.2" />
<line x1="65.35" y1="626.41" x2="68.75" y2="626.41" stroke="#000" stroke-width="1.2" />
<text x="51.85" y="658.17" font-size="14.7" text-anchor="end" fill="#000" font-weight="bold" >-60</text>
<line x1="61.05" y1="619.7" x2="65.35" y2="619.7" stroke="#000" stroke-width="1.2" />
<line x1="65.35" y1="612.99" x2="68.75" y2="612.99" stroke="#000" stroke-width="1.2" />
<line x1="65.35" y1="606.28" x2="68.75" y2="606.28" stroke="#000" stroke-width="1.2" />
<line x1="65.35" y1="599.57" x2="68.75" y2="599.57" stroke="#000" stroke-width="1.2" />
<line x1="65.35" y1="592.86" x2="68.75" y2="592.86" stroke="#000" stroke-width="1.2" />
<text x="51.85" y="624.62" font-size="14.7" text-anchor="end" fill="#000" font-weight="bold" >-40</text>
<line x1="61.05" y1="586.15" x2="65.35" y2="586.15" stroke="#000" stroke-width="1.2" />
<line x1="65.35" y1="579.44" x2="68.75" y2="579.44" stroke="#000" stroke-width="1.2" />
<line x1="65.35" y1="572.73" x2="68.75" y2="572.73" stroke="#000" stroke-width="1.2" />
<line x1="65.35" y1="566.02" x2="68.75" y2="566.02" stroke="#000" stroke-width="1.2" />
<line x1="65.35" y1="559.31" x2="68.75" y2="559.31" stroke="#000" stroke-width="1.2" />
<text x="51.85" y="591.07" font-size="14.7" text-anchor="end" fill="#000" font-weight="bold" >-20</text>
<line x1="61.05" y1="552.6" x2="65.35" y2="552.6" stroke="#000" stroke-width="1.2" />
<text x="51.85" y="557.52" font-size="14.7" text-anchor="end" fill="#000" font-weight="bold" >0</text>
<line x1="65.35" y1="753.9" x2="65.35" y2="758.1" stroke="#000" stroke-width="1.2" />
<line x1="77.84" y1="750.7" x2="77.84" y2="753.9" stroke="#000" stroke-width="1.2" />
<line x1="90.33" y1="750.7" x2="90.33" y2="753.9" stroke="#000" stroke-width="1.2" />
<line x1="102.83" y1="750.7" x2="102.83" y2="753.9" stroke="#000" stroke-width="1.2" />
<line x1="115.32" y1="750.7" x2="115.32" y2="753.9" stroke="#000" stroke-width="1.2" />
<text x="65.35" y="776.1" font-size="14.7" text-anchor="middle" fill="#000" font-weight="bold" >0</text>
<line x1="127.81" y1="753.9" x2="127.81" y2="758.1" stroke="#000" stroke-width="1.2" />
<line x1="140.31" y1="750.7" x2="140.31" y2="753.9" stroke="#000" stroke-width="1.2" />
<line x1="152.8" y1="750.7" x2="152.8" y2="753.9" stroke="#000" stroke-width="1.2" />
<line x1="165.29" y1="750.7" x2="165.29" y2="753.9" stroke="#000" stroke-width="1.2" />
<line x1="177.78" y1="750.7" x2="177.78" y2="753.9" stroke="#000" stroke-width="1.2" />
<text x="127.81" y="776.1" font-size="14.7" text-anchor="middle" fill="#000" font-weight="bold" >5</text>
<line x1="190.27" y1="753.9" x2="190.27" y2="758.1" stroke="#000" stroke-width="1.2" />
<line x1="202.77" y1="750.7" x2="202.77" y2="753.9" stroke="#000" stroke-width="1.2" />
<line x1="215.26" y1="750.7" x2="215.26" y2="753.9" stroke="#000" stroke-width="1.2" />
<line x1="227.75" y1="750.7" x2="227.75" y2="753.9" stroke="#000" stroke-width="1.2" />
<line x1="240.24" y1="750.7" x2="240.24" y2="753.9" stroke="#000" stroke-width="1.2" />
<text x="190.27" y="776.1" font-size="14.7" text-anchor="middle" fill="#000" font-weight="bold" >10</text>
<line x1="252.74" y1="753.9" x2="252.74" y2="758.1" stroke="#000" stroke-width="1.2" />
<line x1="265.23" y1="750.7" x2="265.23" y2="753.9" stroke="#000" stroke-width="1.2" />
<line x1="277.72" y1="750.7" x2="277.72" y2="753.9" stroke="#000" stroke-width="1.2" />
<line x1="290.21" y1="750.7" x2="290.21" y2="753.9" stroke="#000" stroke-width="1.2" />
<line x1="302.71" y1="750.7" x2="302.71" y2="753.9" stroke="#000" stroke-width="1.2" />
<text x="252.74" y="776.1" font-size="14.7" text-anchor="middle" fill="#000" font-weight="bold" >15</text>
<line x1="315.2" y1="753.9" x2="315.2" y2="758.1" stroke="#000" stroke-width="1.2" />
<text x="315.2" y="776.1" font-size="14.7" text-anchor="middle" fill="#000" font-weight="bold" >20</text>
<clipPath id="ce"><rect x="65.35" y="552.6" width="249.85" height="201.30"/></clipPath><g clip-path="url(#ce)">
<polyline points="215.26,552.6 221.51,711.12 227.75,552.6 234,705.76 240.25,552.6 246.49,702.07 252.74,552.6 258.98,705.25 265.23,552.6 271.48,703.91 277.72,552.6 283.97,699.88 290.22,552.6" fill="none" stroke="#00B050" stroke-width="2.8" stroke-linejoin="round" stroke-linecap="round" />
<polyline points="140.31,552.6 146.55,668.01 152.8,552.6 159.04,661.97 165.29,552.6 171.54,666.33 177.78,552.6 184.03,670.02 190.27,552.6 196.52,668.01 202.77,552.6 209.01,671.7 215.26,552.6" fill="none" stroke="#0070C0" stroke-width="2.8" stroke-linejoin="round" stroke-linecap="round" />
<polyline points="65.35,552.6 71.6,628.09 77.84,552.6 84.09,624.06 90.33,552.6 96.58,626.41 102.83,552.6 109.07,630.1 115.32,552.6 121.57,624.06 127.81,552.6 134.06,632.28 140.31,552.6" fill="none" stroke="#FF0000" stroke-width="2.8" stroke-linejoin="round" stroke-linecap="round" />
</g>
<line x1="83.9" y1="719.2" x2="104.5" y2="719.2" stroke="#00B050" stroke-width="3" />
<text x="105.9" y="724.3" font-size="14.7" text-anchor="start" fill="#000" font-weight="bold" >Strain = 0.20</text>
<line x1="196.6" y1="719.2" x2="218.4" y2="719.2" stroke="#0070C0" stroke-width="3" />
<text x="218.8" y="724.3" font-size="14.7" text-anchor="start" fill="#000" font-weight="bold" >Strain = 0.15</text>
<line x1="83.9" y1="739.6" x2="104.5" y2="739.6" stroke="#FF0000" stroke-width="3" />
<text x="105.9" y="744.5" font-size="14.7" text-anchor="start" fill="#000" font-weight="bold" >Strain = 0.10</text>
<text x="191" y="795.2" font-size="14.6" text-anchor="middle" fill="#000" font-weight="bold" >Time (s)</text>
<text x="0" y="0" font-size="14.6" text-anchor="middle" font-weight="bold" transform="translate(18.9,653.5) rotate(-90)">ΔR/R<tspan font-size="9.1" dy="2.9">0</tspan><tspan dy="-2.9"> (%)</tspan></text>
<text x="365.2" y="537.7" font-size="17.3" text-anchor="start" fill="#111" font-weight="bold" >(f)</text>
<rect x="413" y="552.4" width="248.6" height="200.4" fill="none" stroke="#000" stroke-width="2.5" stroke-linejoin="round"/>
<line x1="408.7" y1="752.8" x2="413" y2="752.8" stroke="#000" stroke-width="1.2" />
<line x1="413" y1="747.07" x2="416.4" y2="747.07" stroke="#000" stroke-width="1.2" />
<line x1="413" y1="741.35" x2="416.4" y2="741.35" stroke="#000" stroke-width="1.2" />
<line x1="413" y1="735.62" x2="416.4" y2="735.62" stroke="#000" stroke-width="1.2" />
<line x1="413" y1="729.9" x2="416.4" y2="729.9" stroke="#000" stroke-width="1.2" />
<text x="400" y="757.69" font-size="14.6" text-anchor="end" fill="#000" font-weight="bold" >-140</text>
<line x1="408.7" y1="724.17" x2="413" y2="724.17" stroke="#000" stroke-width="1.2" />
<line x1="413" y1="718.45" x2="416.4" y2="718.45" stroke="#000" stroke-width="1.2" />
<line x1="413" y1="712.72" x2="416.4" y2="712.72" stroke="#000" stroke-width="1.2" />
<line x1="413" y1="706.99" x2="416.4" y2="706.99" stroke="#000" stroke-width="1.2" />
<line x1="413" y1="701.27" x2="416.4" y2="701.27" stroke="#000" stroke-width="1.2" />
<text x="400" y="729.06" font-size="14.6" text-anchor="end" fill="#000" font-weight="bold" >-120</text>
<line x1="408.7" y1="695.54" x2="413" y2="695.54" stroke="#000" stroke-width="1.2" />
<line x1="413" y1="689.82" x2="416.4" y2="689.82" stroke="#000" stroke-width="1.2" />
<line x1="413" y1="684.09" x2="416.4" y2="684.09" stroke="#000" stroke-width="1.2" />
<line x1="413" y1="678.37" x2="416.4" y2="678.37" stroke="#000" stroke-width="1.2" />
<line x1="413" y1="672.64" x2="416.4" y2="672.64" stroke="#000" stroke-width="1.2" />
<text x="400" y="700.43" font-size="14.6" text-anchor="end" fill="#000" font-weight="bold" >-100</text>
<line x1="408.7" y1="666.91" x2="413" y2="666.91" stroke="#000" stroke-width="1.2" />
<line x1="413" y1="661.19" x2="416.4" y2="661.19" stroke="#000" stroke-width="1.2" />
<line x1="413" y1="655.46" x2="416.4" y2="655.46" stroke="#000" stroke-width="1.2" />
<line x1="413" y1="649.74" x2="416.4" y2="649.74" stroke="#000" stroke-width="1.2" />
<line x1="413" y1="644.01" x2="416.4" y2="644.01" stroke="#000" stroke-width="1.2" />
<text x="400" y="671.81" font-size="14.6" text-anchor="end" fill="#000" font-weight="bold" >-80</text>
<line x1="408.7" y1="638.29" x2="413" y2="638.29" stroke="#000" stroke-width="1.2" />
<line x1="413" y1="632.56" x2="416.4" y2="632.56" stroke="#000" stroke-width="1.2" />
<line x1="413" y1="626.83" x2="416.4" y2="626.83" stroke="#000" stroke-width="1.2" />
<line x1="413" y1="621.11" x2="416.4" y2="621.11" stroke="#000" stroke-width="1.2" />
<line x1="413" y1="615.38" x2="416.4" y2="615.38" stroke="#000" stroke-width="1.2" />
<text x="400" y="643.18" font-size="14.6" text-anchor="end" fill="#000" font-weight="bold" >-60</text>
<line x1="408.7" y1="609.66" x2="413" y2="609.66" stroke="#000" stroke-width="1.2" />
<line x1="413" y1="603.93" x2="416.4" y2="603.93" stroke="#000" stroke-width="1.2" />
<line x1="413" y1="598.21" x2="416.4" y2="598.21" stroke="#000" stroke-width="1.2" />
<line x1="413" y1="592.48" x2="416.4" y2="592.48" stroke="#000" stroke-width="1.2" />
<line x1="413" y1="586.75" x2="416.4" y2="586.75" stroke="#000" stroke-width="1.2" />
<text x="400" y="614.55" font-size="14.6" text-anchor="end" fill="#000" font-weight="bold" >-40</text>
<line x1="408.7" y1="581.03" x2="413" y2="581.03" stroke="#000" stroke-width="1.2" />
<line x1="413" y1="575.3" x2="416.4" y2="575.3" stroke="#000" stroke-width="1.2" />
<line x1="413" y1="569.58" x2="416.4" y2="569.58" stroke="#000" stroke-width="1.2" />
<line x1="413" y1="563.85" x2="416.4" y2="563.85" stroke="#000" stroke-width="1.2" />
<line x1="413" y1="558.13" x2="416.4" y2="558.13" stroke="#000" stroke-width="1.2" />
<text x="400" y="585.92" font-size="14.6" text-anchor="end" fill="#000" font-weight="bold" >-20</text>
<line x1="408.7" y1="552.4" x2="413" y2="552.4" stroke="#000" stroke-width="1.2" />
<text x="400" y="557.29" font-size="14.6" text-anchor="end" fill="#000" font-weight="bold" >0</text>
<line x1="413" y1="752.8" x2="413" y2="757" stroke="#000" stroke-width="1.2" />
<line x1="422.94" y1="749.6" x2="422.94" y2="752.8" stroke="#000" stroke-width="1.2" />
<line x1="432.89" y1="749.6" x2="432.89" y2="752.8" stroke="#000" stroke-width="1.2" />
<line x1="442.83" y1="749.6" x2="442.83" y2="752.8" stroke="#000" stroke-width="1.2" />
<line x1="452.78" y1="749.6" x2="452.78" y2="752.8" stroke="#000" stroke-width="1.2" />
<text x="413" y="775" font-size="14.6" text-anchor="middle" fill="#000" font-weight="bold" >0</text>
<line x1="462.72" y1="752.8" x2="462.72" y2="757" stroke="#000" stroke-width="1.2" />
<line x1="472.66" y1="749.6" x2="472.66" y2="752.8" stroke="#000" stroke-width="1.2" />
<line x1="482.61" y1="749.6" x2="482.61" y2="752.8" stroke="#000" stroke-width="1.2" />
<line x1="492.55" y1="749.6" x2="492.55" y2="752.8" stroke="#000" stroke-width="1.2" />
<line x1="502.5" y1="749.6" x2="502.5" y2="752.8" stroke="#000" stroke-width="1.2" />
<text x="462.72" y="775" font-size="14.6" text-anchor="middle" fill="#000" font-weight="bold" >10</text>
<line x1="512.44" y1="752.8" x2="512.44" y2="757" stroke="#000" stroke-width="1.2" />
<line x1="522.38" y1="749.6" x2="522.38" y2="752.8" stroke="#000" stroke-width="1.2" />
<line x1="532.33" y1="749.6" x2="532.33" y2="752.8" stroke="#000" stroke-width="1.2" />
<line x1="542.27" y1="749.6" x2="542.27" y2="752.8" stroke="#000" stroke-width="1.2" />
<line x1="552.22" y1="749.6" x2="552.22" y2="752.8" stroke="#000" stroke-width="1.2" />
<text x="512.44" y="775" font-size="14.6" text-anchor="middle" fill="#000" font-weight="bold" >20</text>
<line x1="562.16" y1="752.8" x2="562.16" y2="757" stroke="#000" stroke-width="1.2" />
<line x1="572.1" y1="749.6" x2="572.1" y2="752.8" stroke="#000" stroke-width="1.2" />
<line x1="582.05" y1="749.6" x2="582.05" y2="752.8" stroke="#000" stroke-width="1.2" />
<line x1="591.99" y1="749.6" x2="591.99" y2="752.8" stroke="#000" stroke-width="1.2" />
<line x1="601.94" y1="749.6" x2="601.94" y2="752.8" stroke="#000" stroke-width="1.2" />
<text x="562.16" y="775" font-size="14.6" text-anchor="middle" fill="#000" font-weight="bold" >30</text>
<line x1="611.88" y1="752.8" x2="611.88" y2="757" stroke="#000" stroke-width="1.2" />
<line x1="621.82" y1="749.6" x2="621.82" y2="752.8" stroke="#000" stroke-width="1.2" />
<line x1="631.77" y1="749.6" x2="631.77" y2="752.8" stroke="#000" stroke-width="1.2" />
<line x1="641.71" y1="749.6" x2="641.71" y2="752.8" stroke="#000" stroke-width="1.2" />
<line x1="651.66" y1="749.6" x2="651.66" y2="752.8" stroke="#000" stroke-width="1.2" />
<text x="611.88" y="775" font-size="14.6" text-anchor="middle" fill="#000" font-weight="bold" >40</text>
<line x1="661.6" y1="752.8" x2="661.6" y2="757" stroke="#000" stroke-width="1.2" />
<text x="661.6" y="775" font-size="14.6" text-anchor="middle" fill="#000" font-weight="bold" >50</text>
<clipPath id="cf"><rect x="413.0" y="552.4" width="248.60" height="200.40"/></clipPath><g clip-path="url(#cf)">
<polyline points="413,552.4 415.49,678.22 417.97,552.4 420.46,672.07 422.94,552.4 425.43,675.22 427.92,552.4 430.4,680.8 432.89,552.4 435.37,672.07 437.86,552.4 440.35,685.24 442.83,552.4" fill="none" stroke="#FF0000" stroke-width="2.7" stroke-linejoin="round" stroke-linecap="round" />
<polyline points="442.83,552.4 447.8,684.38 452.78,552.4 457.75,675.22 462.72,552.4 467.69,680.8 472.66,552.4 477.64,686.95 482.61,552.4 487.58,675.22 492.55,552.4" fill="none" stroke="#0070C0" stroke-width="2.8" stroke-linejoin="round" stroke-linecap="round" />
<polyline points="492.55,552.4 507.47,680.23 522.38,552.4 537.3,680.8 552.22,552.4 567.13,674.36 582.05,552.4 596.96,686.67 611.88,552.4 626.8,675.5 641.71,552.4" fill="none" stroke="#00B050" stroke-width="2.8" stroke-linejoin="round" stroke-linecap="round" />
</g>
<line x1="423.4" y1="693.1" x2="443.4" y2="693.1" stroke="#FF0000" stroke-width="3" />
<text x="444.4" y="697.9" font-size="14.8" text-anchor="start" fill="#000" font-weight="bold" >Strain rate = 0.1</text>
<text x="559" y="697.9" font-size="14.8" font-weight="bold">s<tspan font-size="9.5" dy="-6.3">-1</tspan></text>
<line x1="423.4" y1="717.6" x2="443.4" y2="717.6" stroke="#0070C0" stroke-width="3" />
<text x="444.4" y="722" font-size="14.8" text-anchor="start" fill="#000" font-weight="bold" >Strain rate = 0.05</text>
<text x="565.3" y="722.0" font-size="14.8" font-weight="bold">s<tspan font-size="9.5" dy="-6.3">-1</tspan></text>
<line x1="423.4" y1="741.7" x2="443.4" y2="741.7" stroke="#00B050" stroke-width="3" />
<text x="444.4" y="745.9" font-size="14.8" text-anchor="start" fill="#000" font-weight="bold" >Strain rate = 0.025</text>
<text x="572.6" y="745.9" font-size="14.8" font-weight="bold">s<tspan font-size="9.5" dy="-6.3">-1</tspan></text>
<text x="537.2" y="794.4" font-size="14.5" text-anchor="middle" fill="#000" font-weight="bold" >Time (s)</text>
<text x="0" y="0" font-size="14.5" text-anchor="middle" font-weight="bold" transform="translate(366.6,652.9) rotate(-90)">ΔR/R<tspan font-size="9.0" dy="2.9">0</tspan><tspan dy="-2.9"> (%)</tspan></text>
<text x="18.3" y="799.6" font-size="17.5" text-anchor="start" fill="#111" font-weight="bold" >(g)</text>
<rect x="53.5" y="824.4" width="618.5" height="191.1" fill="none" stroke="#000" stroke-width="2.5" stroke-linejoin="round"/>
<line x1="49.2" y1="1015.5" x2="53.5" y2="1015.5" stroke="#000" stroke-width="1.2" />
<line x1="53.5" y1="1009.13" x2="56.9" y2="1009.13" stroke="#000" stroke-width="1.2" />
<line x1="53.5" y1="1002.76" x2="56.9" y2="1002.76" stroke="#000" stroke-width="1.2" />
<line x1="53.5" y1="996.39" x2="56.9" y2="996.39" stroke="#000" stroke-width="1.2" />
<line x1="53.5" y1="990.02" x2="56.9" y2="990.02" stroke="#000" stroke-width="1.2" />
<text x="40.3" y="1020.06" font-size="13.6" text-anchor="end" fill="#000" font-weight="bold" >-120</text>
<line x1="49.2" y1="983.65" x2="53.5" y2="983.65" stroke="#000" stroke-width="1.2" />
<line x1="53.5" y1="977.28" x2="56.9" y2="977.28" stroke="#000" stroke-width="1.2" />
<line x1="53.5" y1="970.91" x2="56.9" y2="970.91" stroke="#000" stroke-width="1.2" />
<line x1="53.5" y1="964.54" x2="56.9" y2="964.54" stroke="#000" stroke-width="1.2" />
<line x1="53.5" y1="958.17" x2="56.9" y2="958.17" stroke="#000" stroke-width="1.2" />
<text x="40.3" y="988.21" font-size="13.6" text-anchor="end" fill="#000" font-weight="bold" >-100</text>
<line x1="49.2" y1="951.8" x2="53.5" y2="951.8" stroke="#000" stroke-width="1.2" />
<line x1="53.5" y1="945.43" x2="56.9" y2="945.43" stroke="#000" stroke-width="1.2" />
<line x1="53.5" y1="939.06" x2="56.9" y2="939.06" stroke="#000" stroke-width="1.2" />
<line x1="53.5" y1="932.69" x2="56.9" y2="932.69" stroke="#000" stroke-width="1.2" />
<line x1="53.5" y1="926.32" x2="56.9" y2="926.32" stroke="#000" stroke-width="1.2" />
<text x="40.3" y="956.36" font-size="13.6" text-anchor="end" fill="#000" font-weight="bold" >-80</text>
<line x1="49.2" y1="919.95" x2="53.5" y2="919.95" stroke="#000" stroke-width="1.2" />
<line x1="53.5" y1="913.58" x2="56.9" y2="913.58" stroke="#000" stroke-width="1.2" />
<line x1="53.5" y1="907.21" x2="56.9" y2="907.21" stroke="#000" stroke-width="1.2" />
<line x1="53.5" y1="900.84" x2="56.9" y2="900.84" stroke="#000" stroke-width="1.2" />
<line x1="53.5" y1="894.47" x2="56.9" y2="894.47" stroke="#000" stroke-width="1.2" />
<text x="40.3" y="924.51" font-size="13.6" text-anchor="end" fill="#000" font-weight="bold" >-60</text>
<line x1="49.2" y1="888.1" x2="53.5" y2="888.1" stroke="#000" stroke-width="1.2" />
<line x1="53.5" y1="881.73" x2="56.9" y2="881.73" stroke="#000" stroke-width="1.2" />
<line x1="53.5" y1="875.36" x2="56.9" y2="875.36" stroke="#000" stroke-width="1.2" />
<line x1="53.5" y1="868.99" x2="56.9" y2="868.99" stroke="#000" stroke-width="1.2" />
<line x1="53.5" y1="862.62" x2="56.9" y2="862.62" stroke="#000" stroke-width="1.2" />
<text x="40.3" y="892.66" font-size="13.6" text-anchor="end" fill="#000" font-weight="bold" >-40</text>
<line x1="49.2" y1="856.25" x2="53.5" y2="856.25" stroke="#000" stroke-width="1.2" />
<line x1="53.5" y1="849.88" x2="56.9" y2="849.88" stroke="#000" stroke-width="1.2" />
<line x1="53.5" y1="843.51" x2="56.9" y2="843.51" stroke="#000" stroke-width="1.2" />
<line x1="53.5" y1="837.14" x2="56.9" y2="837.14" stroke="#000" stroke-width="1.2" />
<line x1="53.5" y1="830.77" x2="56.9" y2="830.77" stroke="#000" stroke-width="1.2" />
<text x="40.3" y="860.81" font-size="13.6" text-anchor="end" fill="#000" font-weight="bold" >-20</text>
<line x1="49.2" y1="824.4" x2="53.5" y2="824.4" stroke="#000" stroke-width="1.2" />
<text x="40.3" y="828.96" font-size="13.6" text-anchor="end" fill="#000" font-weight="bold" >0</text>
<line x1="53.5" y1="1015.5" x2="53.5" y2="1019.7" stroke="#000" stroke-width="1.2" />
<line x1="78.24" y1="1012.3" x2="78.24" y2="1015.5" stroke="#000" stroke-width="1.2" />
<line x1="102.98" y1="1012.3" x2="102.98" y2="1015.5" stroke="#000" stroke-width="1.2" />
<line x1="127.72" y1="1012.3" x2="127.72" y2="1015.5" stroke="#000" stroke-width="1.2" />
<line x1="152.46" y1="1012.3" x2="152.46" y2="1015.5" stroke="#000" stroke-width="1.2" />
<text x="53.5" y="1037" font-size="13.6" text-anchor="middle" fill="#000" font-weight="bold" >0</text>
<line x1="177.2" y1="1015.5" x2="177.2" y2="1019.7" stroke="#000" stroke-width="1.2" />
<line x1="201.94" y1="1012.3" x2="201.94" y2="1015.5" stroke="#000" stroke-width="1.2" />
<line x1="226.68" y1="1012.3" x2="226.68" y2="1015.5" stroke="#000" stroke-width="1.2" />
<line x1="251.42" y1="1012.3" x2="251.42" y2="1015.5" stroke="#000" stroke-width="1.2" />
<line x1="276.16" y1="1012.3" x2="276.16" y2="1015.5" stroke="#000" stroke-width="1.2" />
<text x="177.2" y="1037" font-size="13.6" text-anchor="middle" fill="#000" font-weight="bold" >200</text>
<line x1="300.9" y1="1015.5" x2="300.9" y2="1019.7" stroke="#000" stroke-width="1.2" />
<line x1="325.64" y1="1012.3" x2="325.64" y2="1015.5" stroke="#000" stroke-width="1.2" />
<line x1="350.38" y1="1012.3" x2="350.38" y2="1015.5" stroke="#000" stroke-width="1.2" />
<line x1="375.12" y1="1012.3" x2="375.12" y2="1015.5" stroke="#000" stroke-width="1.2" />
<line x1="399.86" y1="1012.3" x2="399.86" y2="1015.5" stroke="#000" stroke-width="1.2" />
<text x="300.9" y="1037" font-size="13.6" text-anchor="middle" fill="#000" font-weight="bold" >400</text>
<line x1="424.6" y1="1015.5" x2="424.6" y2="1019.7" stroke="#000" stroke-width="1.2" />
<line x1="449.34" y1="1012.3" x2="449.34" y2="1015.5" stroke="#000" stroke-width="1.2" />
<line x1="474.08" y1="1012.3" x2="474.08" y2="1015.5" stroke="#000" stroke-width="1.2" />
<line x1="498.82" y1="1012.3" x2="498.82" y2="1015.5" stroke="#000" stroke-width="1.2" />
<line x1="523.56" y1="1012.3" x2="523.56" y2="1015.5" stroke="#000" stroke-width="1.2" />
<text x="424.6" y="1037" font-size="13.6" text-anchor="middle" fill="#000" font-weight="bold" >600</text>
<line x1="548.3" y1="1015.5" x2="548.3" y2="1019.7" stroke="#000" stroke-width="1.2" />
<line x1="573.04" y1="1012.3" x2="573.04" y2="1015.5" stroke="#000" stroke-width="1.2" />
<line x1="597.78" y1="1012.3" x2="597.78" y2="1015.5" stroke="#000" stroke-width="1.2" />
<line x1="622.52" y1="1012.3" x2="622.52" y2="1015.5" stroke="#000" stroke-width="1.2" />
<line x1="647.26" y1="1012.3" x2="647.26" y2="1015.5" stroke="#000" stroke-width="1.2" />
<text x="548.3" y="1037" font-size="13.6" text-anchor="middle" fill="#000" font-weight="bold" >800</text>
<line x1="672" y1="1015.5" x2="672" y2="1019.7" stroke="#000" stroke-width="1.2" />
<text x="672" y="1037" font-size="13.6" text-anchor="middle" fill="#000" font-weight="bold" >1000</text>
<polygon points="54.0,824.4 54.6,824.4 55.2,824.4 55.8,824.4 56.4,824.4 57.0,824.4 57.6,824.4 58.2,824.4 58.8,824.4 59.4,824.4 60.0,824.4 60.6,824.4 61.2,824.4 61.8,824.4 62.4,824.4 63.0,824.4 63.6,824.4 64.2,824.4 64.8,824.4 65.4,824.4 66.0,824.4 66.6,824.4 67.2,824.4 67.8,824.4 68.4,824.4 69.0,824.4 69.6,824.4 70.2,824.4 70.8,824.4 71.4,824.4 72.0,824.4 72.6,824.4 73.2,824.4 73.8,824.4 74.4,824.4 75.0,824.4 75.6,824.4 76.2,824.4 76.8,824.4 77.4,824.5 78.0,824.4 78.6,824.4 79.2,824.4 79.8,824.4 80.4,824.4 81.0,824.4 81.6,824.4 82.2,824.4 82.8,824.4 83.4,824.4 84.0,824.4 84.6,824.4 85.2,824.4 85.8,824.5 86.4,824.4 87.0,824.4 87.6,824.4 88.2,824.4 88.8,824.4 89.4,824.4 90.0,824.4 90.6,824.4 91.2,824.4 91.8,824.4 92.4,824.4 93.0,824.5 93.6,824.4 94.2,824.5 94.8,824.4 95.4,824.4 96.0,824.4 96.6,824.4 97.2,824.4 97.8,824.4 98.4,824.4 99.0,824.4 99.6,824.5 100.2,824.4 100.8,824.4 101.4,824.4 102.0,824.4 102.6,824.4 103.2,824.4 103.8,824.4 104.4,824.4 105.0,824.4 105.6,824.4 106.2,824.4 106.8,824.4 107.4,824.4 108.0,824.8 108.6,824.4 109.2,824.4 109.8,824.4 110.4,824.4 111.0,824.4 111.6,824.5 112.2,824.4 112.8,824.4 113.4,824.4 114.0,824.9 114.6,824.4 115.2,824.4 115.8,824.7 116.4,824.4 117.0,824.4 117.6,824.4 118.2,824.4 118.8,825.0 119.4,824.4 120.0,825.0 120.6,824.4 121.2,824.4 121.8,825.1 122.4,824.4 123.0,824.4 123.6,824.4 124.2,824.4 124.8,824.8 125.4,824.8 126.0,824.8 126.6,825.3 127.2,824.4 127.8,824.4 128.4,824.4 129.0,824.4 129.6,824.4 130.2,824.4 130.8,825.7 131.4,825.3 132.0,824.4 132.6,824.7 133.2,824.4 133.8,825.6 134.4,825.1 135.0,824.4 135.6,824.4 136.2,824.4 136.8,824.4 137.4,824.4 138.0,824.4 138.6,824.4 139.2,824.4 139.8,824.4 140.4,824.4 141.0,824.4 141.6,825.8 142.2,826.0 142.8,826.0 143.4,824.4 144.0,825.8 144.6,824.4 145.2,824.4 145.8,825.6 146.4,824.9 147.0,824.4 147.6,825.9 148.2,824.4 148.8,825.8 149.4,824.4 150.0,824.4 150.6,826.4 151.2,824.4 151.8,826.3 152.4,824.4 153.0,826.3 153.6,826.4 154.2,825.7 154.8,825.0 155.4,824.4 156.0,826.2 156.6,824.4 157.2,826.4 157.8,824.4 158.4,826.5 159.0,824.4 159.6,826.5 160.2,826.6 160.8,825.1 161.4,824.6 162.0,826.0 162.6,824.7 163.2,826.6 163.8,826.7 164.4,825.9 165.0,824.4 165.6,825.0 166.2,825.8 166.8,826.2 167.4,824.4 168.0,826.5 168.6,824.4 169.2,824.4 169.8,825.1 170.4,825.7 171.0,824.4 171.6,825.9 172.2,824.4 172.8,825.7 173.4,827.0 174.0,827.0 174.6,826.4 175.2,827.0 175.8,824.4 176.4,826.3 177.0,826.3 177.6,826.9 178.2,826.5 178.8,824.4 179.4,826.6 180.0,826.3 180.6,827.3 181.2,825.6 181.8,826.8 182.4,827.4 183.0,827.2 183.6,827.3 184.2,826.5 184.8,825.1 185.4,824.4 186.0,824.4 186.6,826.2 187.2,824.4 187.8,824.4 188.4,827.5 189.0,824.4 189.6,824.4 190.2,827.3 190.8,825.7 191.4,824.4 192.0,825.3 192.6,824.7 193.2,827.0 193.8,827.4 194.4,827.5 195.0,825.5 195.6,825.1 196.2,825.9 196.8,824.4 197.4,825.9 198.0,825.0 198.6,824.5 199.2,827.7 199.8,824.6 200.4,824.6 201.0,826.0 201.6,826.1 202.2,824.5 202.8,825.2 203.4,827.6 204.0,824.6 204.6,825.7 205.2,827.9 205.8,825.1 206.4,825.1 207.0,826.0 207.6,826.3 208.2,824.4 208.8,824.4 209.4,828.1 210.0,824.4 210.6,826.5 211.2,827.6 211.8,827.6 212.4,827.8 213.0,824.4 213.6,824.4 214.2,824.4 214.8,827.6 215.4,826.4 216.0,828.2 216.6,826.6 217.2,827.9 217.8,827.3 218.4,828.3 219.0,824.4 219.6,824.4 220.2,824.4 220.8,827.1 221.4,824.4 222.0,827.2 222.6,827.6 223.2,828.2 223.8,827.6 224.4,827.7 225.0,826.5 225.6,827.2 226.2,824.4 226.8,825.9 227.4,824.4 228.0,825.4 228.6,825.3 229.2,825.2 229.8,827.7 230.4,824.4 231.0,826.8 231.6,827.7 232.2,824.4 232.8,825.9 233.4,826.4 234.0,828.2 234.6,828.1 235.2,826.8 235.8,824.4 236.4,827.1 237.0,828.2 237.6,827.6 238.2,828.1 238.8,826.5 239.4,825.4 240.0,827.3 240.6,827.5 241.2,828.7 241.8,824.4 242.4,826.9 243.0,824.8 243.6,828.1 244.2,827.5 244.8,824.4 245.4,824.8 246.0,828.9 246.6,824.6 247.2,826.6 247.8,827.6 248.4,825.1 249.0,824.4 249.6,828.8 250.2,827.0 250.8,824.4 251.4,826.3 252.0,827.4 252.6,829.0 253.2,828.4 253.8,826.4 254.4,828.8 255.0,826.4 255.6,828.9 256.2,827.1 256.8,827.8 257.4,826.7 258.0,828.2 258.6,824.4 259.2,825.0 259.8,828.5 260.4,824.5 261.0,828.2 261.6,827.3 262.2,827.7 262.8,826.4 263.4,828.6 264.0,828.2 264.6,826.3 265.2,825.6 265.8,827.4 266.4,824.5 267.0,825.5 267.6,828.7 268.2,828.4 268.8,827.5 269.4,828.7 270.0,826.5 270.6,829.0 271.2,828.8 271.8,829.1 272.4,829.3 273.0,825.1 273.6,826.2 274.2,824.9 274.8,829.0 275.4,826.1 276.0,826.7 276.6,828.2 277.2,829.1 277.8,828.7 278.4,824.8 279.0,824.8 279.6,828.4 280.2,825.7 280.8,829.5 281.4,828.3 282.0,829.1 282.6,825.3 283.2,828.2 283.8,826.2 284.4,829.6 285.0,825.2 285.6,826.3 286.2,828.5 286.8,825.0 287.4,828.9 288.0,828.7 288.6,829.7 289.2,825.3 289.8,825.1 290.4,829.1 291.0,825.0 291.6,828.4 292.2,828.2 292.8,825.3 293.4,826.1 294.0,826.0 294.6,827.3 295.2,828.8 295.8,826.3 296.4,829.3 297.0,829.1 297.6,829.8 298.2,828.8 298.8,825.7 299.4,829.1 300.0,829.7 300.6,826.8 301.2,829.2 301.8,827.3 302.4,826.6 303.0,827.1 303.6,826.0 304.2,827.7 304.8,826.7 305.4,829.2 306.0,829.6 306.6,827.7 307.2,828.6 307.8,828.1 308.4,826.3 309.0,825.1 309.6,828.3 310.2,826.1 310.8,830.0 311.4,829.8 312.0,825.2 312.6,825.5 313.2,826.0 313.8,829.3 314.4,825.5 315.0,827.7 315.6,829.5 316.2,829.8 316.8,829.4 317.4,827.4 318.0,830.1 318.6,827.2 319.2,829.2 319.8,826.5 320.4,830.1 321.0,828.8 321.6,827.5 322.2,829.8 322.8,828.8 323.4,829.3 324.0,829.2 324.6,829.1 325.2,826.2 325.8,829.0 326.4,827.1 327.0,830.3 327.6,828.8 328.2,828.9 328.8,828.6 329.4,830.3 330.0,827.6 330.6,830.1 331.2,829.1 331.8,830.0 332.4,828.3 333.0,830.1 333.6,826.7 334.2,829.8 334.8,825.8 335.4,828.6 336.0,825.9 336.6,826.1 337.2,826.6 337.8,826.8 338.4,829.0 339.0,826.6 339.6,829.8 340.2,828.5 340.8,830.2 341.4,827.3 342.0,830.4 342.6,827.1 343.2,826.6 343.8,828.0 344.4,827.9 345.0,829.0 345.6,829.0 346.2,828.9 346.8,830.5 347.4,828.7 348.0,827.1 348.6,828.9 349.2,828.8 349.8,830.3 350.4,830.4 351.0,828.6 351.6,827.9 352.2,827.4 352.8,828.6 353.4,828.7 354.0,826.0 354.6,826.6 355.2,827.4 355.8,830.1 356.4,828.8 357.0,826.2 357.6,827.1 358.2,830.6 358.8,827.3 359.4,826.4 360.0,826.9 360.6,828.8 361.2,830.1 361.8,828.8 362.4,830.7 363.0,830.3 363.6,827.8 364.2,830.3 364.8,830.5 365.4,828.1 366.0,826.6 366.6,828.4 367.2,830.6 367.8,828.2 368.4,827.1 369.0,825.9 369.6,829.6 370.2,829.2 370.8,827.5 371.4,827.0 372.0,828.1 372.6,828.5 373.2,829.8 373.8,830.8 374.4,828.3 375.0,828.9 375.6,830.6 376.2,828.1 376.8,830.9 377.4,830.7 378.0,830.3 378.6,828.5 379.2,828.3 379.8,830.6 380.4,830.2 381.0,830.7 381.6,826.8 382.2,829.5 382.8,830.9 383.4,828.7 384.0,828.2 384.6,826.4 385.2,830.2 385.8,830.9 386.4,829.6 387.0,830.9 387.6,831.0 388.2,826.4 388.8,830.5 389.4,829.1 390.0,827.3 390.6,830.0 391.2,830.9 391.8,827.5 392.4,831.0 393.0,827.7 393.6,827.8 394.2,830.4 394.8,830.4 395.4,830.0 396.0,828.1 396.6,828.0 397.2,828.9 397.8,827.5 398.4,830.3 399.0,826.3 399.6,826.9 400.2,830.3 400.8,827.8 401.4,827.8 402.0,826.9 402.6,830.5 403.2,828.5 403.8,828.3 404.4,829.4 405.0,828.1 405.6,829.6 406.2,828.9 406.8,830.6 407.4,831.0 408.0,830.8 408.6,831.0 409.2,830.1 409.8,831.2 410.4,828.2 411.0,828.2 411.6,831.1 412.2,830.0 412.8,827.4 413.4,831.1 414.0,826.8 414.6,831.0 415.2,831.0 415.8,827.3 416.4,828.6 417.0,828.6 417.6,831.1 418.2,827.9 418.8,830.3 419.4,831.3 420.0,830.4 420.6,830.1 421.2,826.5 421.8,827.3 422.4,831.3 423.0,829.7 423.6,830.2 424.2,829.2 424.8,827.3 425.4,827.5 426.0,831.3 426.6,827.9 427.2,831.3 427.8,829.5 428.4,830.9 429.0,830.2 429.6,830.6 430.2,830.5 430.8,828.3 431.4,831.2 432.0,831.2 432.6,828.4 433.2,828.8 433.8,830.0 434.4,827.2 435.0,827.2 435.6,830.9 436.2,827.1 436.8,830.1 437.4,830.8 438.0,829.4 438.6,828.1 439.2,830.3 439.8,831.1 440.4,828.6 441.0,831.0 441.6,828.0 442.2,831.2 442.8,827.3 443.4,831.0 444.0,828.4 444.6,831.1 445.2,830.8 445.8,829.5 446.4,830.4 447.0,826.7 447.6,831.3 448.2,831.3 448.8,826.6 449.4,828.3 450.0,831.0 450.6,831.3 451.2,830.2 451.8,830.2 452.4,828.5 453.0,828.9 453.6,831.2 454.2,830.1 454.8,827.2 455.4,829.3 456.0,830.1 456.6,828.4 457.2,828.1 457.8,827.6 458.4,828.9 459.0,830.6 459.6,831.4 460.2,828.1 460.8,829.0 461.4,830.1 462.0,829.0 462.6,828.7 463.2,831.2 463.8,828.1 464.4,829.8 465.0,831.6 465.6,831.2 466.2,827.0 466.8,831.4 467.4,829.5 468.0,829.7 468.6,827.8 469.2,830.2 469.8,831.1 470.4,830.3 471.0,831.4 471.6,830.5 472.2,830.9 472.8,831.7 473.4,830.2 474.0,830.5 474.6,831.1 475.2,827.1 475.8,831.1 476.4,830.4 477.0,831.4 477.6,828.0 478.2,830.0 478.8,831.1 479.4,830.6 480.0,827.9 480.6,830.0 481.2,829.6 481.8,827.9 482.4,827.8 483.0,830.5 483.6,830.2 484.2,831.8 484.8,830.9 485.4,830.8 486.0,830.2 486.6,829.0 487.2,827.3 487.8,831.7 488.4,827.4 489.0,831.5 489.6,829.2 490.2,831.8 490.8,829.0 491.4,831.6 492.0,831.1 492.6,830.7 493.2,827.5 493.8,831.4 494.4,829.3 495.0,829.0 495.6,828.2 496.2,831.3 496.8,829.8 497.4,830.3 498.0,829.6 498.6,831.2 499.2,830.0 499.8,830.1 500.4,830.0 501.0,829.7 501.6,831.9 502.2,830.1 502.8,829.0 503.4,830.6 504.0,827.1 504.6,829.2 505.2,831.8 505.8,829.0 506.4,830.8 507.0,829.9 507.6,827.6 508.2,828.8 508.8,830.8 509.4,830.7 510.0,829.9 510.6,831.3 511.2,830.4 511.8,828.1 512.4,828.1 513.0,830.0 513.6,830.0 514.2,829.2 514.8,830.9 515.4,831.0 516.0,829.3 516.6,831.9 517.2,827.7 517.8,831.9 518.4,831.9 519.0,827.5 519.6,829.2 520.2,827.6 520.8,829.4 521.4,829.0 522.0,829.0 522.6,829.1 523.2,828.6 523.8,831.5 524.4,828.5 525.0,829.2 525.6,828.2 526.2,829.8 526.8,831.1 527.4,831.0 528.0,829.3 528.6,831.9 529.2,832.0 529.8,828.3 530.4,827.6 531.0,832.0 531.6,829.6 532.2,827.2 532.8,830.6 533.4,829.3 534.0,831.7 534.6,832.0 535.2,831.8 535.8,831.9 536.4,831.8 537.0,828.9 537.6,828.8 538.2,832.0 538.8,828.9 539.4,828.8 540.0,829.4 540.6,830.4 541.2,831.3 541.8,828.9 542.4,832.1 543.0,828.3 543.6,831.1 544.2,831.7 544.8,830.3 545.4,830.9 546.0,830.5 546.6,831.8 547.2,830.9 547.8,829.5 548.4,830.8 549.0,827.5 549.6,829.8 550.2,832.0 550.8,829.1 551.4,831.0 552.0,827.3 552.6,829.7 553.2,830.6 553.8,830.8 554.4,829.7 555.0,828.4 555.6,832.1 556.2,830.6 556.8,828.4 557.4,832.1 558.0,828.4 558.6,829.9 559.2,828.2 559.8,829.2 560.4,831.0 561.0,830.0 561.6,831.6 562.2,827.6 562.8,829.7 563.4,830.4 564.0,831.4 564.6,828.6 565.2,832.0 565.8,828.7 566.4,829.8 567.0,828.0 567.6,830.4 568.2,831.7 568.8,831.7 569.4,831.0 570.0,830.8 570.6,831.8 571.2,827.2 571.8,832.0 572.4,828.6 573.0,829.8 573.6,830.2 574.2,832.2 574.8,828.1 575.4,830.0 576.0,828.7 576.6,827.6 577.2,828.4 577.8,831.5 578.4,831.7 579.0,832.1 579.6,830.0 580.2,830.6 580.8,827.9 581.4,829.8 582.0,832.0 582.6,831.5 583.2,829.6 583.8,829.4 584.4,830.6 585.0,827.5 585.6,831.6 586.2,831.5 586.8,827.9 587.4,828.4 588.0,828.7 588.6,829.5 589.2,832.2 589.8,828.9 590.4,829.4 591.0,829.9 591.6,832.1 592.2,831.5 592.8,830.5 593.4,831.6 594.0,829.4 594.6,829.1 595.2,832.2 595.8,831.7 596.4,828.2 597.0,832.0 597.6,832.1 598.2,828.4 598.8,830.7 599.4,828.5 600.0,829.7 600.6,831.7 601.2,829.2 601.8,832.0 602.4,831.5 603.0,831.9 603.6,828.4 604.2,831.9 604.8,831.3 605.4,832.1 606.0,832.2 606.6,829.5 607.2,830.6 607.8,831.6 608.4,831.1 609.0,827.3 609.6,832.1 610.2,828.0 610.8,829.1 611.4,827.5 612.0,828.6 612.6,832.0 613.2,828.5 613.8,831.9 614.4,828.0 615.0,830.1 615.6,831.9 616.2,829.3 616.8,832.2 617.4,829.9 618.0,831.5 618.6,829.8 619.2,828.6 619.8,831.8 620.4,829.1 621.0,829.2 621.6,828.6 622.2,828.4 622.8,830.5 623.4,828.0 624.0,828.3 624.6,831.9 625.2,831.2 625.8,831.1 626.4,832.4 627.0,830.8 627.6,832.1 628.2,828.6 628.8,831.4 629.4,831.1 630.0,832.3 630.6,827.7 631.2,830.4 631.8,830.3 632.4,827.6 633.0,831.9 633.6,831.7 634.2,832.4 634.8,829.4 635.4,832.4 636.0,830.1 636.6,829.4 637.2,828.3 637.8,832.4 638.4,830.6 639.0,831.6 639.6,831.0 640.2,830.0 640.8,832.1 641.4,829.1 642.0,828.6 642.6,831.1 643.2,828.5 643.8,831.1 644.4,828.9 645.0,831.8 645.6,830.9 646.2,828.8 646.8,828.7 647.4,832.4 648.0,827.7 648.6,831.7 649.2,829.8 649.8,830.4 650.4,830.9 651.0,832.4 651.6,827.7 652.2,827.9 652.8,828.7 653.4,828.3 654.0,829.8 654.6,829.6 655.2,830.3 655.8,829.9 656.4,830.5 657.0,827.8 657.6,831.5 658.2,832.2 658.8,827.8 659.4,831.7 660.0,830.4 660.6,832.2 661.2,831.6 661.8,831.6 662.4,832.3 663.0,828.6 663.6,830.2 664.2,832.0 664.8,830.8 665.4,830.0 666.0,831.5 666.6,831.9 667.2,831.2 667.8,832.5 668.4,828.4 669.0,830.3 669.6,831.6 670.2,831.6 670.8,832.1 670.8,980.2 670.2,983.5 669.6,985.0 669.0,981.8 668.4,980.7 667.8,981.1 667.2,982.3 666.6,981.9 666.0,980.7 665.4,981.7 664.8,982.1 664.2,983.0 663.6,982.7 663.0,982.4 662.4,982.0 661.8,980.6 661.2,981.3 660.6,980.2 660.0,980.3 659.4,981.6 658.8,981.8 658.2,982.3 657.6,982.6 657.0,980.7 656.4,981.4 655.8,980.6 655.2,984.4 654.6,980.7 654.0,980.6 653.4,980.0 652.8,984.1 652.2,982.4 651.6,983.3 651.0,980.2 650.4,981.7 649.8,980.0 649.2,981.0 648.6,981.2 648.0,984.4 647.4,981.7 646.8,983.7 646.2,984.2 645.6,984.7 645.0,980.8 644.4,980.8 643.8,984.4 643.2,981.7 642.6,981.2 642.0,984.3 641.4,980.1 640.8,981.9 640.2,983.8 639.6,980.0 639.0,980.0 638.4,981.5 637.8,980.0 637.2,982.8 636.6,979.9 636.0,981.6 635.4,982.0 634.8,980.1 634.2,979.8 633.6,983.4 633.0,979.8 632.4,980.2 631.8,979.7 631.2,981.6 630.6,981.4 630.0,983.7 629.4,982.9 628.8,982.6 628.2,983.6 627.6,982.6 627.0,981.5 626.4,981.5 625.8,981.9 625.2,979.9 624.6,983.4 624.0,980.3 623.4,981.2 622.8,979.6 622.2,983.6 621.6,980.5 621.0,979.6 620.4,980.8 619.8,979.6 619.2,981.7 618.6,982.5 618.0,980.0 617.4,981.2 616.8,979.6 616.2,979.9 615.6,982.9 615.0,979.7 614.4,980.0 613.8,980.9 613.2,981.4 612.6,979.4 612.0,980.4 611.4,979.4 610.8,980.2 610.2,979.5 609.6,980.2 609.0,983.8 608.4,984.3 607.8,979.8 607.2,980.1 606.6,979.8 606.0,983.6 605.4,984.2 604.8,983.6 604.2,981.1 603.6,980.3 603.0,980.0 602.4,980.6 601.8,983.4 601.2,981.4 600.6,979.4 600.0,979.6 599.4,980.9 598.8,980.3 598.2,981.8 597.6,983.7 597.0,980.7 596.4,983.4 595.8,983.7 595.2,983.7 594.6,979.7 594.0,979.2 593.4,979.5 592.8,979.5 592.2,979.4 591.6,980.1 591.0,982.5 590.4,980.0 589.8,983.7 589.2,979.4 588.6,984.0 588.0,982.1 587.4,979.2 586.8,983.4 586.2,980.2 585.6,979.2 585.0,984.0 584.4,979.4 583.8,980.3 583.2,983.8 582.6,981.2 582.0,983.8 581.4,980.3 580.8,979.1 580.2,983.7 579.6,983.1 579.0,979.1 578.4,979.4 577.8,979.1 577.2,983.7 576.6,982.4 576.0,980.4 575.4,979.7 574.8,980.7 574.2,983.9 573.6,979.0 573.0,980.0 572.4,979.3 571.8,981.5 571.2,980.1 570.6,979.0 570.0,980.8 569.4,981.0 568.8,981.8 568.2,979.3 567.6,981.2 567.0,980.8 566.4,983.1 565.8,979.4 565.2,982.5 564.6,980.4 564.0,982.1 563.4,979.3 562.8,981.6 562.2,979.4 561.6,982.1 561.0,982.4 560.4,978.9 559.8,983.2 559.2,982.4 558.6,979.5 558.0,982.8 557.4,982.6 556.8,983.0 556.2,981.0 555.6,979.4 555.0,979.5 554.4,983.0 553.8,981.6 553.2,982.9 552.6,979.6 552.0,982.5 551.4,981.1 550.8,982.5 550.2,983.5 549.6,979.5 549.0,982.2 548.4,982.2 547.8,980.0 547.2,981.2 546.6,982.2 546.0,981.4 545.4,980.8 544.8,978.7 544.2,982.6 543.6,981.7 543.0,978.7 542.4,981.2 541.8,978.6 541.2,983.3 540.6,983.1 540.0,981.6 539.4,978.7 538.8,982.5 538.2,982.0 537.6,978.9 537.0,979.1 536.4,978.5 535.8,982.6 535.2,983.3 534.6,981.3 534.0,978.5 533.4,979.0 532.8,978.6 532.2,980.1 531.6,983.0 531.0,979.7 530.4,979.9 529.8,980.6 529.2,978.6 528.6,980.6 528.0,982.9 527.4,979.8 526.8,979.8 526.2,979.1 525.6,981.9 525.0,979.5 524.4,982.8 523.8,978.4 523.2,978.5 522.6,979.9 522.0,978.8 521.4,980.7 520.8,980.8 520.2,980.7 519.6,981.8 519.0,980.7 518.4,978.7 517.8,979.1 517.2,980.3 516.6,981.4 516.0,981.8 515.4,980.5 514.8,979.2 514.2,981.8 513.6,983.1 513.0,979.0 512.4,979.5 511.8,979.0 511.2,980.3 510.6,979.7 510.0,981.6 509.4,979.8 508.8,982.2 508.2,980.7 507.6,978.2 507.0,979.9 506.4,983.0 505.8,982.7 505.2,980.5 504.6,980.7 504.0,978.2 503.4,979.5 502.8,982.0 502.2,980.2 501.6,982.0 501.0,982.1 500.4,979.9 499.8,978.4 499.2,978.2 498.6,978.3 498.0,978.8 497.4,982.2 496.8,981.3 496.2,980.9 495.6,981.9 495.0,982.3 494.4,981.5 493.8,982.2 493.2,981.5 492.6,978.3 492.0,981.4 491.4,978.3 490.8,978.6 490.2,982.6 489.6,978.0 489.0,981.8 488.4,981.4 487.8,981.7 487.2,981.9 486.6,979.0 486.0,980.5 485.4,979.6 484.8,978.5 484.2,981.0 483.6,978.3 483.0,978.5 482.4,978.6 481.8,978.9 481.2,978.1 480.6,978.7 480.0,981.5 479.4,980.4 478.8,982.6 478.2,979.9 477.6,980.4 477.0,981.2 476.4,978.3 475.8,981.4 475.2,979.7 474.6,981.0 474.0,978.5 473.4,980.7 472.8,979.1 472.2,979.0 471.6,977.8 471.0,982.6 470.4,981.1 469.8,980.6 469.2,982.3 468.6,979.6 468.0,980.3 467.4,980.7 466.8,979.9 466.2,979.6 465.6,981.1 465.0,979.7 464.4,982.5 463.8,978.9 463.2,980.3 462.6,982.1 462.0,979.0 461.4,979.2 460.8,978.3 460.2,980.6 459.6,979.0 459.0,980.1 458.4,979.1 457.8,980.4 457.2,980.5 456.6,981.7 456.0,978.1 455.4,980.8 454.8,979.0 454.2,980.7 453.6,979.9 453.0,979.1 452.4,979.3 451.8,981.0 451.2,977.5 450.6,978.0 450.0,980.0 449.4,978.9 448.8,981.0 448.2,978.7 447.6,982.2 447.0,980.6 446.4,977.9 445.8,977.8 445.2,978.4 444.6,977.7 444.0,981.3 443.4,978.2 442.8,978.0 442.2,979.0 441.6,979.6 441.0,978.8 440.4,980.6 439.8,981.2 439.2,978.3 438.6,980.0 438.0,980.6 437.4,978.9 436.8,981.5 436.2,979.1 435.6,978.0 435.0,977.3 434.4,977.4 433.8,978.5 433.2,978.4 432.6,980.8 432.0,980.8 431.4,979.8 430.8,979.0 430.2,977.8 429.6,981.8 429.0,981.0 428.4,979.0 427.8,980.8 427.2,978.9 426.6,982.1 426.0,977.7 425.4,977.6 424.8,977.3 424.2,977.7 423.6,980.1 423.0,980.6 422.4,978.5 421.8,979.6 421.2,978.9 420.6,978.1 420.0,980.2 419.4,977.8 418.8,978.5 418.2,977.6 417.6,977.3 417.0,977.9 416.4,980.8 415.8,980.8 415.2,977.1 414.6,977.5 414.0,981.7 413.4,981.1 412.8,981.3 412.2,980.7 411.6,979.3 411.0,980.2 410.4,979.6 409.8,977.1 409.2,977.3 408.6,981.5 408.0,977.0 407.4,981.3 406.8,979.4 406.2,977.8 405.6,980.1 405.0,980.9 404.4,980.8 403.8,981.8 403.2,979.8 402.6,981.3 402.0,977.9 401.4,977.9 400.8,981.5 400.2,977.5 399.6,976.9 399.0,977.4 398.4,979.5 397.8,978.8 397.2,978.3 396.6,977.6 396.0,980.7 395.4,980.1 394.8,976.9 394.2,977.0 393.6,978.4 393.0,978.4 392.4,980.7 391.8,979.8 391.2,981.0 390.6,977.6 390.0,977.2 389.4,979.3 388.8,979.1 388.2,977.0 387.6,978.8 387.0,980.2 386.4,977.3 385.8,978.7 385.2,981.0 384.6,979.9 384.0,978.2 383.4,977.7 382.8,979.3 382.2,977.4 381.6,980.1 381.0,979.2 380.4,977.0 379.8,981.2 379.2,978.3 378.6,977.1 378.0,978.9 377.4,977.7 376.8,977.7 376.2,976.6 375.6,977.2 375.0,980.8 374.4,978.0 373.8,976.9 373.2,976.6 372.6,979.3 372.0,981.5 371.4,977.2 370.8,976.6 370.2,976.9 369.6,979.9 369.0,978.7 368.4,977.2 367.8,977.8 367.2,981.5 366.6,980.7 366.0,978.6 365.4,977.6 364.8,978.4 364.2,980.0 363.6,980.7 363.0,981.0 362.4,976.8 361.8,977.4 361.2,977.1 360.6,980.8 360.0,976.7 359.4,977.1 358.8,976.7 358.2,977.4 357.6,980.9 357.0,976.7 356.4,981.1 355.8,981.2 355.2,980.1 354.6,981.3 354.0,976.6 353.4,977.5 352.8,976.4 352.2,979.8 351.6,976.4 351.0,976.4 350.4,977.8 349.8,977.7 349.2,976.5 348.6,976.7 348.0,979.7 347.4,976.9 346.8,978.7 346.2,977.7 345.6,978.9 345.0,978.5 344.4,977.1 343.8,978.3 343.2,976.4 342.6,976.3 342.0,978.3 341.4,980.5 340.8,976.8 340.2,977.4 339.6,977.5 339.0,976.6 338.4,980.1 337.8,976.7 337.2,976.5 336.6,978.6 336.0,977.4 335.4,976.2 334.8,980.9 334.2,976.3 333.6,980.9 333.0,977.8 332.4,980.6 331.8,976.8 331.2,977.9 330.6,978.5 330.0,980.4 329.4,978.1 328.8,976.4 328.2,980.2 327.6,979.8 327.0,980.3 326.4,976.5 325.8,976.5 325.2,981.0 324.6,977.4 324.0,978.1 323.4,980.6 322.8,976.7 322.2,978.9 321.6,976.1 321.0,978.0 320.4,976.1 319.8,978.0 319.2,976.4 318.6,976.3 318.0,976.9 317.4,976.4 316.8,978.2 316.2,976.4 315.6,977.0 315.0,978.3 314.4,976.1 313.8,979.3 313.2,977.4 312.6,977.0 312.0,978.1 311.4,976.3 310.8,976.6 310.2,980.2 309.6,979.5 309.0,976.0 308.4,978.5 307.8,976.4 307.2,980.7 306.6,976.7 306.0,979.9 305.4,976.4 304.8,976.2 304.2,976.9 303.6,976.6 303.0,976.0 302.4,979.6 301.8,978.5 301.2,977.1 300.6,977.2 300.0,977.5 299.4,975.8 298.8,980.6 298.2,980.5 297.6,977.7 297.0,975.8 296.4,978.9 295.8,975.8 295.2,976.7 294.6,976.6 294.0,979.0 293.4,978.8 292.8,976.0 292.2,977.4 291.6,976.2 291.0,980.3 290.4,977.2 289.8,975.6 289.2,978.1 288.6,978.9 288.0,976.3 287.4,978.6 286.8,978.0 286.2,976.3 285.6,979.8 285.0,976.2 284.4,975.6 283.8,975.6 283.2,979.2 282.6,975.5 282.0,976.6 281.4,979.9 280.8,977.1 280.2,976.9 279.6,979.2 279.0,975.9 278.4,975.7 277.8,976.5 277.2,975.4 276.6,976.4 276.0,976.6 275.4,975.5 274.8,979.9 274.2,976.4 273.6,980.4 273.0,979.5 272.4,976.6 271.8,975.4 271.2,980.2 270.6,976.6 270.0,980.0 269.4,976.7 268.8,975.7 268.2,980.0 267.6,978.6 267.0,975.9 266.4,976.2 265.8,975.8 265.2,978.5 264.6,975.7 264.0,976.7 263.4,975.3 262.8,979.7 262.2,975.9 261.6,978.0 261.0,975.3 260.4,978.2 259.8,975.9 259.2,976.9 258.6,977.8 258.0,976.8 257.4,975.2 256.8,975.7 256.2,977.4 255.6,975.3 255.0,978.1 254.4,975.8 253.8,976.0 253.2,979.6 252.6,978.6 252.0,977.2 251.4,978.5 250.8,978.2 250.2,977.9 249.6,975.4 249.0,975.7 248.4,979.1 247.8,979.6 247.2,975.1 246.6,976.7 246.0,978.1 245.4,975.1 244.8,979.0 244.2,976.5 243.6,975.7 243.0,975.5 242.4,977.5 241.8,975.2 241.2,975.7 240.6,976.0 240.0,976.9 239.4,976.3 238.8,979.2 238.2,975.6 237.6,975.1 237.0,975.1 236.4,975.2 235.8,979.9 235.2,975.5 234.6,979.2 234.0,975.3 233.4,976.2 232.8,975.7 232.2,975.6 231.6,978.1 231.0,975.9 230.4,975.1 229.8,974.9 229.2,977.5 228.6,976.4 228.0,974.9 227.4,976.9 226.8,979.2 226.2,978.5 225.6,979.5 225.0,975.2 224.4,975.5 223.8,979.3 223.2,978.6 222.6,974.8 222.0,976.2 221.4,977.0 220.8,976.0 220.2,975.5 219.6,977.8 219.0,975.0 218.4,978.0 217.8,978.6 217.2,975.7 216.6,975.6 216.0,976.4 215.4,974.7 214.8,979.0 214.2,977.6 213.6,976.5 213.0,974.9 212.4,976.6 211.8,976.9 211.2,979.3 210.6,975.3 210.0,979.4 209.4,976.2 208.8,979.2 208.2,975.1 207.6,974.8 207.0,976.2 206.4,975.4 205.8,977.5 205.2,975.3 204.6,974.6 204.0,975.4 203.4,975.2 202.8,974.7 202.2,977.0 201.6,977.4 201.0,975.7 200.4,979.3 199.8,975.0 199.2,975.2 198.6,975.1 198.0,974.6 197.4,976.5 196.8,977.7 196.2,974.5 195.6,977.3 195.0,977.0 194.4,978.3 193.8,975.5 193.2,974.5 192.6,977.3 192.0,978.6 191.4,978.2 190.8,978.2 190.2,976.3 189.6,978.1 189.0,976.9 188.4,978.2 187.8,977.0 187.2,974.7 186.6,975.3 186.0,978.5 185.4,977.0 184.8,976.3 184.2,974.9 183.6,974.3 183.0,975.6 182.4,975.0 181.8,976.1 181.2,976.1 180.6,975.5 180.0,975.4 179.4,979.0 178.8,976.3 178.2,979.0 177.6,975.7 177.0,975.8 176.4,974.8 175.8,977.0 175.2,978.1 174.6,974.6 174.0,977.4 173.4,974.4 172.8,975.2 172.2,976.7 171.6,978.0 171.0,979.0 170.4,976.0 169.8,978.0 169.2,975.6 168.6,974.3 168.0,975.8 167.4,976.2 166.8,974.1 166.2,974.1 165.6,974.5 165.0,974.9 164.4,974.9 163.8,974.5 163.2,974.4 162.6,974.7 162.0,974.3 161.4,978.5 160.8,975.0 160.2,978.1 159.6,978.0 159.0,977.6 158.4,978.6 157.8,975.4 157.2,974.1 156.6,976.9 156.0,978.4 155.4,974.7 154.8,978.3 154.2,974.2 153.6,977.4 153.0,974.7 152.4,978.7 151.8,978.8 151.2,975.8 150.6,974.9 150.0,975.4 149.4,973.9 148.8,974.8 148.2,974.9 147.6,975.3 147.0,977.7 146.4,975.6 145.8,978.5 145.2,978.6 144.6,974.1 144.0,976.9 143.4,978.1 142.8,976.6 142.2,974.4 141.6,975.3 141.0,974.1 140.4,978.4 139.8,974.5 139.2,977.9 138.6,978.4 138.0,975.7 137.4,976.7 136.8,975.6 136.2,975.2 135.6,977.1 135.0,975.6 134.4,974.5 133.8,975.8 133.2,977.2 132.6,975.6 132.0,975.8 131.4,975.3 130.8,977.3 130.2,974.1 129.6,973.7 129.0,975.6 128.4,978.1 127.8,978.0 127.2,975.2 126.6,978.0 126.0,975.0 125.4,975.9 124.8,974.4 124.2,974.1 123.6,977.7 123.0,978.1 122.4,976.2 121.8,973.6 121.2,975.6 120.6,976.2 120.0,977.3 119.4,977.2 118.8,973.9 118.2,973.9 117.6,978.2 117.0,974.8 116.4,977.1 115.8,977.0 115.2,975.2 114.6,977.0 114.0,976.2 113.4,977.1 112.8,975.1 112.2,977.8 111.6,973.9 111.0,974.0 110.4,974.6 109.8,978.4 109.2,974.9 108.6,976.3 108.0,974.2 107.4,973.4 106.8,975.3 106.2,976.6 105.6,977.0 105.0,978.3 104.4,973.9 103.8,976.8 103.2,976.8 102.6,974.5 102.0,976.3 101.4,978.2 100.8,973.4 100.2,973.6 99.6,978.0 99.0,973.6 98.4,974.0 97.8,973.5 97.2,975.0 96.6,978.2 96.0,973.5 95.4,974.3 94.8,973.6 94.2,977.4 93.6,974.4 93.0,973.5 92.4,973.3 91.8,973.6 91.2,973.3 90.6,975.7 90.0,974.5 89.4,976.8 88.8,976.6 88.2,973.3 87.6,975.6 87.0,976.0 86.4,975.3 85.8,974.5 85.2,973.8 84.6,974.8 84.0,973.7 83.4,973.4 82.8,977.3 82.2,974.5 81.6,977.1 81.0,977.3 80.4,974.6 79.8,977.2 79.2,973.7 78.6,976.4 78.0,973.3 77.4,974.6 76.8,975.8 76.2,973.8 75.6,978.0 75.0,976.0 74.4,975.7 73.8,977.6 73.2,974.6 72.6,975.3 72.0,973.9 71.4,975.2 70.8,975.7 70.2,974.7 69.6,976.3 69.0,973.2 68.4,973.7 67.8,977.0 67.2,975.1 66.6,975.9 66.0,973.8 65.4,975.2 64.8,974.3 64.2,973.4 63.6,973.0 63.0,974.0 62.4,975.1 61.8,976.6 61.2,973.1 60.6,973.6 60.0,972.9 59.4,974.1 58.8,977.5 58.2,979.5 57.6,979.5 57.0,979.5 56.4,979.5 55.8,974.6 55.2,973.9 54.6,972.9 54.0,973.1" fill="#0070C0"/>
<text x="206.2" y="945.2" font-size="14.5" font-weight="bold" fill="#fff">1000 cycles, Strain = 0.25, Strain Rate = 0.1 s<tspan font-size="9" dy="-6">-1</tspan></text>
<text x="621" y="968.7" font-size="13.8" text-anchor="start" fill="#fff" font-weight="bold" >0.02 %</text>
<line x1="667.6" y1="956.5" x2="667.6" y2="975" stroke="#fff" stroke-width="1.5" />
<polygon points="664.4,974 670.8,974 667.6,981" fill="#fff"/>
<text x="362.9" y="1056" font-size="13.9" text-anchor="middle" fill="#000" font-weight="bold" >Time (s)</text>
<text x="0" y="0" font-size="14" text-anchor="middle" font-weight="bold" transform="translate(9.4,920.7) rotate(-90)">ΔR/R<tspan font-size="8.7" dy="2.8">0</tspan><tspan dy="-2.8"> (%)</tspan></text>
</svg></body></html>
